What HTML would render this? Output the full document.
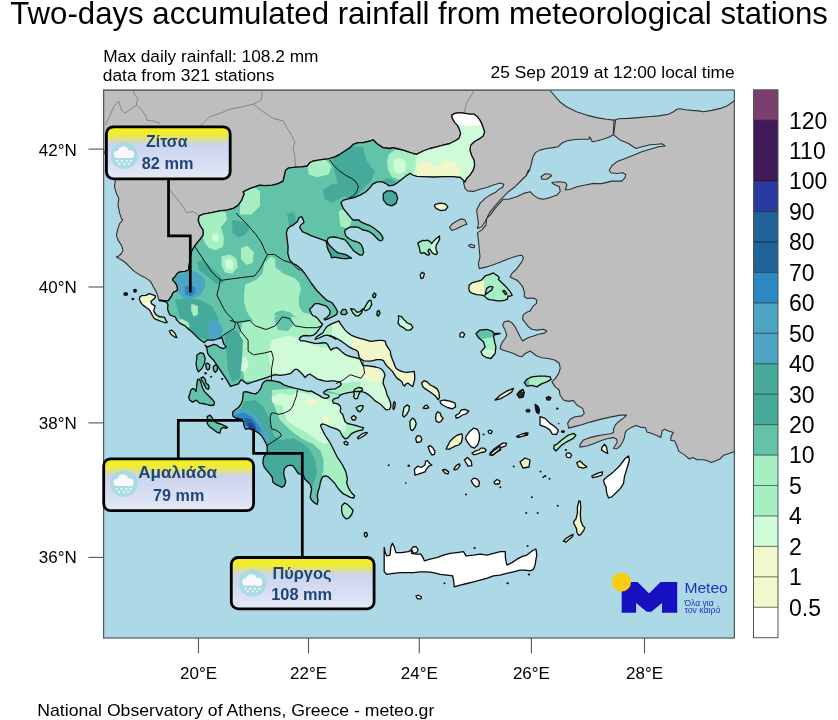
<!DOCTYPE html>
<html><head><meta charset="utf-8"><title>Two-days accumulated rainfall</title>
<style>
html,body{margin:0;padding:0;background:#fff;width:838px;height:720px;overflow:hidden}
svg{display:block}
text{font-family:"Liberation Sans",Arial,sans-serif;fill:#000}
.cb{font-size:23px}
.ax{font-size:17px}
.co{font-family:"Liberation Sans","DejaVu Sans",sans-serif;font-weight:bold;fill:#1f4679}
</style></head>
<body>
<svg width="838" height="720" viewBox="0 0 838 720">
<defs>
<linearGradient id="cg" x1="0" y1="0" x2="0" y2="1">
<stop offset="0" stop-color="#f4f020"/>
<stop offset="0.14" stop-color="#f0ec30"/>
<stop offset="0.34" stop-color="#cbd3ee"/>
<stop offset="1" stop-color="#e4e8f6"/>
</linearGradient>
<clipPath id="mapclip"><rect x="103.5" y="90" width="631" height="548"/></clipPath>
<g id="cloud">
<circle cx="0" cy="0" r="13.6" fill="#a8dbe4"/>
<g fill="#fbf8fb"><circle cx="-6.8" cy="-1.2" r="3.6"/><circle cx="-1" cy="-3.8" r="5.4"/><circle cx="5.6" cy="-1.2" r="4"/><rect x="-9.5" y="-1.5" width="19" height="4" rx="2"/></g>
<g fill="#fff"><circle cx="-7.2" cy="5.6" r="1"/><circle cx="-2.4" cy="5.6" r="1"/><circle cx="2.3" cy="5.6" r="1"/><circle cx="6.7" cy="5.6" r="1"/><circle cx="-4.8" cy="8.4" r="1"/><circle cx="0" cy="8.4" r="1"/><circle cx="4.3" cy="8.4" r="1"/></g>
</g>
</defs>

<!-- titles -->
<text x="10.3" y="24" font-size="31.2" textLength="817.5" lengthAdjust="spacingAndGlyphs">Two-days accumulated rainfall from meteorological stations</text>
<text x="103.2" y="61.8" font-size="17.2" textLength="215.3" lengthAdjust="spacingAndGlyphs">Max daily rainfall: 108.2 mm</text>
<text x="102.8" y="81.2" font-size="17.2" textLength="171.6" lengthAdjust="spacingAndGlyphs">data from 321 stations</text>
<text x="490.6" y="78" font-size="17.2" textLength="244" lengthAdjust="spacingAndGlyphs">25 Sep 2019 at 12:00 local time</text>
<text x="37.3" y="715.6" font-size="17" textLength="397" lengthAdjust="spacingAndGlyphs">National Observatory of Athens, Greece - meteo.gr</text>

<!-- map -->
<g clip-path="url(#mapclip)">
<rect x="103.5" y="90" width="631" height="548" fill="#add8e6"/>
<g fill="#bebebe" stroke="#303030" stroke-width="1.1" stroke-linejoin="round">
<polygon points="103.5,90.0 103.5,150.0 115.5,180.0 114.4,186.7 116.4,193.4 118.9,198.4 118.0,205.1 119.7,213.4 121.4,218.4 122.7,220.1 119.7,223.4 118.0,228.4 116.4,235.1 118.0,240.1 121.4,245.2 123.0,250.2 121.4,253.5 118.9,256.0 116.4,256.8 118.9,258.5 122.2,260.2 126.4,263.5 129.7,266.9 133.9,271.1 138.9,274.4 143.9,276.9 150.0,280.9 151.7,283.4 153.3,286.7 155.8,290.9 157.5,295.1 158.4,298.4 159.2,300.1 162.5,300.5 165.9,300.9 168.4,300.5 170.0,298.4 171.7,295.9 172.6,293.4 174.2,291.8 176.7,290.9 177.6,288.4 176.7,285.1 175.1,282.6 173.4,280.9 172.6,279.2 175.1,276.7 176.7,274.2 178.4,272.5 181.7,271.7 185.1,271.3 188.4,270.0 189.9,260.2 191.5,251.8 194.1,246.8 196.6,243.5 200.7,238.5 203.2,235.1 203.2,230.1 199.9,225.1 198.2,220.1 199.1,215.9 203.2,214.2 211.6,212.6 219.9,210.9 226.6,210.1 233.3,208.4 238.3,205.1 241.8,200.1 244.3,193.4 243.0,191.9 249.7,188.6 255.5,186.6 259.7,185.2 264.7,185.6 272.2,185.2 278.1,183.6 283.1,181.1 285.6,170.2 288.1,168.2 294.8,167.2 301.5,166.8 307.3,166.0 309.8,162.7 313.2,161.0 318.2,160.2 323.2,159.3 328.2,158.8 330.7,158.2 334.9,156.8 339.9,154.3 344.9,151.0 349.9,147.6 353.3,144.3 358.3,142.6 363.3,142.6 370.0,141.0 373.3,139.8 376.7,143.5 383.0,147.6 389.7,148.5 393.0,147.6 396.4,148.5 403.0,150.1 408.1,151.8 413.1,153.5 416.4,154.3 423.1,151.0 429.8,148.5 436.5,146.8 443.1,145.1 449.8,143.5 454.8,141.0 459.0,138.4 460.7,133.4 459.0,128.4 457.3,125.1 454.8,122.6 452.3,118.4 451.8,115.1 454.8,113.4 459.8,112.6 464.9,113.4 469.9,114.2 474.1,114.2 477.4,116.7 479.9,120.1 481.6,123.4 483.2,127.6 484.6,131.8 483.2,135.9 479.9,138.4 474.1,141.8 470.7,145.1 469.9,150.1 471.5,155.2 474.1,160.2 474.6,165.2 473.2,170.2 469.9,175.2 466.5,178.5 464.9,181.9 463.3,181.7 465.0,188.4 467.5,190.9 473.4,191.4 480.0,189.2 486.7,187.5 493.4,185.0 500.1,183.0 503.8,184.2 502.6,187.5 500.1,188.4 495.1,192.6 490.1,195.1 485.1,198.4 480.0,203.4 476.7,210.1 477.5,216.8 478.4,223.5 477.5,228.5 481.7,226.8 485.1,221.8 487.6,216.8 490.1,211.8 495.1,205.9 500.1,200.1 502.6,197.6 508.4,191.7 515.1,186.7 521.8,180.0 526.8,175.0 528.5,170.0 526.3,175.2 529.7,170.2 531.4,163.5 533.0,156.8 535.5,152.6 539.7,150.1 546.4,148.5 553.1,147.6 558.1,146.8 561.4,143.5 566.4,141.0 573.1,139.8 579.8,139.3 586.5,139.3 589.0,139.3 589.5,136.8 590.7,138.4 592.3,141.8 596.5,141.0 603.2,139.3 609.9,136.8 613.2,134.8 614.1,120.1 606.5,119.2 596.5,117.6 586.5,115.1 576.5,111.7 566.4,106.7 559.8,101.7 553.9,95.0 549.7,90.0 549.8,90.0" />
<polygon points="615.5,120.2 615.0,120.1 618.4,118.7 628.4,118.4 638.4,117.6 648.5,116.7 658.5,115.9 668.5,114.2 673.5,111.7 676.9,109.2 680.2,108.7 685.2,109.7 691.9,110.4 698.6,110.9 703.6,111.7 711.9,110.4 720.3,108.4 727.0,105.9 732.0,102.5 735.3,100.0 734.5,100.0 734.5,637.5 737.2,450.7 728.9,453.5 723.3,455.6 719.9,459.0 716.4,460.4 711.5,462.5 708.1,461.1 703.9,459.7 696.9,459.7 692.8,457.6 689.3,459.0 684.4,454.9 678.9,451.4 676.8,445.8 674.7,441.0 670.6,440.3 671.2,436.1 673.3,432.6 669.2,431.2 664.3,429.2 662.2,430.6 660.8,437.5 656.7,435.4 651.1,433.3 646.9,431.9 645.6,427.8 640.2,427.1 636.1,425.4 631.1,427.6 626.9,430.1 625.2,432.6 624.4,437.6 622.7,441.8 620.2,446.0 616.8,448.8 613.5,448.5 614.8,446.0 617.2,442.6 616.8,439.3 613.5,437.6 606.8,438.8 600.1,441.0 593.5,443.8 586.8,446.0 579.8,447.1 580.1,444.3 583.4,440.1 590.1,437.6 596.8,435.9 603.5,434.8 610.2,433.8 613.5,432.6 613.5,429.3 615.2,425.1 618.5,421.7 623.5,418.1 626.5,415.1 620.2,415.1 610.2,417.1 600.1,419.4 590.1,422.1 581.8,424.7 575.1,426.4 568.7,428.1 567.6,423.4 570.1,419.2 575.1,416.7 581.8,415.9 584.3,413.4 582.6,408.4 576.8,405.0 573.4,400.4 568.4,401.4 563.4,400.0 560.0,395.0 559.2,390.0 559.4,390.3 555.2,386.9 551.9,381.9 555.2,378.6 558.6,373.6 560.2,368.5 559.4,363.5 555.2,360.2 548.5,358.5 541.9,357.7 536.8,356.0 533.5,353.5 530.2,351.0 525.2,353.5 521.8,356.8 518.5,356.0 513.5,353.5 508.4,351.8 503.4,350.2 500.1,348.5 500.9,345.2 502.6,341.8 505.1,338.5 506.8,335.1 505.1,330.1 502.6,325.1 504.3,321.8 508.4,320.9 511.8,322.6 515.1,326.8 517.6,331.8 520.1,336.8 522.6,341.0 525.2,339.3 528.5,337.6 533.5,336.0 538.5,334.3 544.4,333.1 546.9,331.0 543.5,329.3 536.8,330.1 531.8,329.3 528.5,326.8 525.2,322.6 522.6,319.3 523.2,315.1 526.0,312.6 530.2,310.9 532.7,306.7 536.5,303.4 536.8,300.0 533.5,298.0 527.7,298.4 524.3,296.7 524.3,291.7 522.6,286.7 519.3,282.5 516.8,280.0 516.8,280.3 510.1,276.9 511.8,273.6 516.8,268.6 521.8,261.9 523.5,257.7 521.8,255.2 516.8,256.0 506.8,259.4 496.8,263.6 486.7,266.9 479.2,268.6 478.4,263.6 480.0,256.9 479.2,248.5 478.4,240.2 477.5,232.6 481.7,230.1 485.9,225.1 486.7,218.4 490.1,215.1 495.1,208.4 500.1,202.6 503.4,199.2 508.4,199.2 516.8,196.7 523.5,193.4 530.2,191.7 533.5,195.1 538.5,198.4 543.5,199.2 550.2,197.6 556.9,195.1 560.2,191.7 559.4,186.7 553.6,184.2 551.9,182.5 558.6,181.7 565.3,182.5 566.9,185.0 565.3,190.0 570.3,189.2 576.9,186.7 585.3,185.0 593.7,183.4 595.0,183.6 601.7,183.6 611.7,181.1 621.7,181.1 625.1,177.7 625.9,174.4 622.6,172.7 616.7,173.5 610.9,172.7 609.2,170.2 611.7,166.0 616.7,161.8 625.1,158.5 633.4,155.2 641.8,151.8 650.1,149.3 658.5,146.8 665.2,146.0 661.8,143.8 656.8,144.3 650.1,144.8 641.8,146.8 635.9,148.5 628.4,143.5 620.1,140.1 613.7,134.8" />
<polygon points="449.5,227.3 451.8,224.3 456.3,221.2 460.9,218.9 464.7,219.7 467.0,224.3 462.4,225.8 456.3,228.9 451.8,230.4" />
<polygon points="468.4,245.5 470.9,244.3 474.7,245.5 474.2,247.7 470.9,247.4" />
<polygon points="541.0,176.7 545.2,173.7 550.2,174.2 551.6,175.8 546.9,179.2 541.9,179.2" />
</g>
<g fill="none" stroke="#858585" stroke-width="1">
<polyline points="133.6,90.3 134.4,94.6 137.9,98.2 136.9,101.7 136.5,105.0 125.1,113.2 121.5,110.3 118.6,101.0 114.3,106.0 108.6,118.2 105.7,124.7"/>
<polyline points="136.5,105.0 141.5,109.6 145.8,116.1 147.2,120.4 154.4,121.1 160.0,123.2"/>
<polyline points="200.0,126.0 203.2,123.4 209.9,116.7 219.9,113.4 230.0,109.2 243.0,106.7 253.0,104.2 261.4,100.0 262.2,93.3 260.5,90.0"/>
<polyline points="253.0,104.2 263.0,111.7 273.1,118.4 283.1,120.9 286.4,126.8 291.4,135.1 294.8,141.8 293.1,148.5 294.8,156.8 295.6,166.8"/>
<polyline points="168.5,181.0 169.8,190.0 176.5,198.4 183.2,206.7 186.5,212.6 193.2,211.7 198.2,215.1"/>
<polyline points="474.0,90.0 471.5,95.0 466.5,103.4 464.9,110.0 464.9,113.4"/>
</g>
<clipPath id="mlc"><polygon points="159.2,300.1 162.5,300.5 165.9,300.9 168.4,300.5 170.0,298.4 171.7,295.9 172.6,293.4 174.2,291.8 176.7,290.9 177.6,288.4 176.7,285.1 175.1,282.6 173.4,280.9 172.6,279.2 175.1,276.7 176.7,274.2 178.4,272.5 181.7,271.7 185.1,271.3 188.4,270.0 189.9,260.2 191.5,251.8 194.1,246.8 196.6,243.5 200.7,238.5 203.2,235.1 203.2,230.1 199.9,225.1 198.2,220.1 199.1,215.9 203.2,214.2 211.6,212.6 219.9,210.9 226.6,210.1 233.3,208.4 238.3,205.1 241.8,200.1 244.3,193.4 243.0,191.9 249.7,188.6 255.5,186.6 259.7,185.2 264.7,185.6 272.2,185.2 278.1,183.6 283.1,181.1 285.6,170.2 288.1,168.2 294.8,167.2 301.5,166.8 307.3,166.0 309.8,162.7 313.2,161.0 318.2,160.2 323.2,159.3 328.2,158.8 330.7,158.2 334.9,156.8 339.9,154.3 344.9,151.0 349.9,147.6 353.3,144.3 358.3,142.6 363.3,142.6 370.0,141.0 373.3,139.8 376.7,143.5 383.0,147.6 389.7,148.5 393.0,147.6 396.4,148.5 403.0,150.1 408.1,151.8 413.1,153.5 416.4,154.3 423.1,151.0 429.8,148.5 436.5,146.8 443.1,145.1 449.8,143.5 454.8,141.0 459.0,138.4 460.7,133.4 459.0,128.4 457.3,125.1 454.8,122.6 452.3,118.4 451.8,115.1 454.8,113.4 459.8,112.6 464.9,113.4 469.9,114.2 474.1,114.2 477.4,116.7 479.9,120.1 481.6,123.4 483.2,127.6 484.6,131.8 483.2,135.9 479.9,138.4 474.1,141.8 470.7,145.1 469.9,150.1 471.5,155.2 474.1,160.2 474.6,165.2 473.2,170.2 469.9,175.2 466.5,178.5 464.9,181.9 461.5,178.5 459.8,176.9 460.0,177.5 453.7,176.7 443.6,176.7 433.6,177.0 423.6,176.7 416.9,176.4 412.7,175.0 410.2,173.4 406.0,175.9 401.9,179.2 397.7,182.6 393.5,185.1 389.3,185.9 386.0,183.7 381.8,181.7 376.8,182.1 372.6,184.2 370.1,187.6 365.9,191.7 360.1,195.1 354.2,197.6 348.4,198.8 343.4,200.1 340.9,202.6 343.2,208.3 346.6,212.5 349.9,216.7 353.0,220.0 359.0,220.0 360.1,221.4 362.9,222.9 366.5,224.3 370.1,225.7 373.7,227.9 377.3,230.7 380.0,232.9 383.0,237.5 382.5,240.0 380.0,240.8 378.7,240.0 375.8,237.2 373.0,234.3 370.1,232.2 366.5,230.7 362.9,230.0 359.4,227.9 357.2,227.2 353.6,226.8 350.1,227.2 347.2,228.6 345.1,230.0 344.7,232.2 345.8,235.7 347.9,237.9 350.1,239.3 352.9,240.8 355.8,241.5 359.4,242.9 361.5,245.1 362.9,248.6 363.7,252.2 362.2,255.1 360.1,255.1 356.5,252.9 353.6,250.8 351.5,247.9 349.3,245.1 347.2,242.2 345.1,240.0 342.9,239.0 340.0,238.3 337.2,237.5 332.9,237.0 330.0,237.2 327.9,238.6 327.2,240.8 327.9,242.9 330.0,245.8 332.2,247.9 335.0,250.8 337.9,252.9 341.5,253.6 345.8,254.7 347.9,255.8 350.1,257.2 351.5,258.3 350.1,257.9 347.2,258.7 342.9,258.7 338.6,257.9 334.3,257.2 331.5,257.9 330.7,254.4 328.6,250.8 327.2,247.2 326.8,243.6 325.7,240.8 321.5,239.3 316.5,237.6 311.5,235.9 306.5,233.4 302.3,231.7 299.8,227.6 300.6,225.1 304.0,222.6 303.1,219.2 301.5,216.7 299.0,217.5 297.3,221.7 293.1,225.1 289.8,226.7 287.3,229.2 286.4,233.4 287.3,240.1 288.1,246.8 287.8,253.5 289.8,260.1 293.1,263.5 296.5,265.2 300.6,268.5 304.8,273.5 308.2,278.5 311.5,283.5 316.5,290.2 321.5,295.2 326.5,300.2 331.8,302.5 334.3,305.8 336.4,309.2 337.6,311.7 336.8,314.2 334.3,315.9 330.9,317.5 327.6,319.2 325.1,320.0 324.2,318.8 325.9,318.0 327.6,316.7 329.7,314.2 330.1,310.9 328.4,308.4 325.9,305.8 321.7,304.6 317.6,303.3 314.6,303.8 311.7,307.5 309.6,309.2 310.9,312.5 312.6,315.5 315.1,316.3 317.6,318.4 320.1,321.7 322.6,324.2 320.9,326.7 318.4,330.1 315.9,333.4 313.4,335.1 310.0,335.9 305.9,335.5 302.5,335.9 300.0,337.6 299.2,339.3 300.9,340.9 304.2,340.9 308.4,341.8 311.7,342.6 315.1,343.4 318.4,343.4 321.7,343.0 325.1,342.6 327.6,344.3 329.3,347.6 330.9,350.1 333.4,348.4 336.8,347.6 340.1,350.1 342.6,352.6 345.1,354.3 348.5,356.0 351.8,356.8 355.2,357.6 358.5,358.5 360.0,359.3 363.0,365.7 366.9,365.7 375.8,367.0 380.7,368.5 383.6,371.4 385.1,375.3 383.6,379.2 383.1,383.1 384.6,386.9 386.0,390.8 387.0,394.7 389.0,398.6 390.4,402.5 390.9,406.4 389.4,409.3 386.0,409.8 383.6,407.4 380.7,404.4 377.8,402.5 374.9,400.6 371.9,397.6 370.0,395.7 365.2,392.6 361.8,391.7 358.5,391.3 355.1,391.7 351.8,392.1 348.4,392.6 345.1,393.4 342.6,394.2 340.1,395.1 338.4,397.6 335.9,398.4 333.4,399.2 332.6,400.9 333.4,403.0 335.9,403.4 338.4,404.2 340.1,405.9 340.9,408.4 340.1,410.9 340.9,412.6 342.6,414.3 343.4,416.8 344.3,419.3 345.1,421.8 347.6,423.5 351.0,424.3 354.3,425.1 357.6,426.0 360.1,426.8 363.5,427.6 362.5,430.0 358.8,430.6 355.0,431.9 351.2,433.8 349.4,436.2 347.5,438.1 345.0,438.8 342.5,436.2 341.2,433.8 340.0,431.2 337.5,429.4 333.8,428.1 330.0,426.9 326.2,425.0 322.5,423.8 320.6,425.0 321.2,427.5 323.1,431.2 325.0,435.0 327.5,438.8 330.0,442.5 331.9,446.2 333.8,450.0 335.6,453.8 337.5,457.5 340.0,461.2 342.5,465.0 344.4,468.8 346.2,472.5 346.0,472.9 347.4,478.7 346.7,483.0 348.8,488.7 351.7,493.0 354.6,495.8 353.8,498.0 350.3,497.3 346.0,495.1 343.1,493.7 340.2,490.8 337.4,487.3 334.5,483.0 331.6,480.1 328.8,477.2 325.9,475.8 323.1,476.5 321.6,478.7 320.2,483.0 319.5,487.3 318.0,491.6 317.3,495.8 318.0,500.1 317.3,504.4 314.5,503.0 311.6,500.1 310.2,497.3 310.9,493.0 311.6,488.7 310.2,484.4 307.3,481.5 304.4,478.7 303.7,475.8 301.6,474.4 298.7,473.7 297.3,472.2 295.1,468.6 293.0,465.8 290.1,465.1 287.3,465.8 284.4,468.6 283.7,472.9 284.4,477.2 285.8,481.5 284.4,485.8 281.5,487.3 278.7,485.8 275.8,484.4 272.9,482.2 272.2,477.2 270.1,474.4 267.2,470.8 264.3,467.2 262.9,462.9 263.6,457.2 265.8,454.3 267.2,451.5 267.2,445.7 263.4,438.5 261.8,436.0 259.2,433.4 256.7,431.8 254.2,430.5 251.7,429.7 248.4,428.4 245.9,429.3 245.0,428.4 243.8,425.1 243.4,421.8 242.1,419.7 239.2,418.8 235.9,418.0 233.4,416.7 232.5,414.2 232.9,411.7 235.0,410.1 238.4,407.6 240.9,404.2 242.5,400.0 243.0,395.0 243.4,392.1 245.9,391.7 249.2,392.5 252.6,393.4 255.9,393.8 258.4,391.7 260.9,388.3 261.8,385.0 263.3,382.5 265.9,380.5 269.9,380.5 275.1,381.2 280.4,382.5 284.3,385.1 288.3,386.4 293.5,387.8 298.8,389.1 304.0,390.4 309.3,391.7 310.9,390.9 314.2,392.6 316.7,394.2 320.0,395.9 322.6,397.6 325.1,398.4 327.6,398.0 329.2,396.7 328.4,395.1 325.1,394.2 323.4,392.6 324.6,391.3 327.6,389.6 331.7,389.2 335.1,388.8 337.6,387.5 340.1,385.9 341.3,384.2 340.1,382.1 337.6,381.7 334.2,380.9 330.9,380.9 327.6,381.3 324.2,380.9 320.9,380.0 317.5,379.2 315.0,377.5 312.5,375.8 310.0,374.2 307.5,375.0 305.0,377.5 302.5,374.2 300.0,371.7 297.4,369.4 294.8,369.4 290.9,373.3 285.6,374.6 280.4,375.3 275.1,374.6 271.2,375.9 267.3,377.3 263.3,378.6 259.4,379.9 255.4,381.2 251.5,382.5 247.6,383.8 244.9,382.5 243.0,380.5 241.0,379.9 238.4,383.8 234.4,385.1 230.5,386.4 226.9,380.2 223.6,375.2 220.2,370.2 216.9,365.2 213.6,360.2 210.2,356.8 207.7,353.5 206.9,348.5 205.2,345.2 205.2,345.2 206.9,346.8 210.2,346.0 213.6,344.3 216.9,345.2 220.2,347.7 223.6,348.5 226.1,346.8 223.6,343.5 221.9,337.6 218.6,338.5 213.6,340.1 206.9,340.1 204.4,342.6 204.4,342.6 201.9,341.0 198.5,338.5 195.2,335.1 191.8,331.8 188.5,329.3 185.2,325.9 180.1,323.4 176.8,320.1 175.1,316.8 170.0,315.0 168.4,311.8 167.5,308.5 168.0,305.1 166.7,302.2 162.5,301.1 159.2,300.5" /></clipPath>
<polygon points="159.2,300.1 162.5,300.5 165.9,300.9 168.4,300.5 170.0,298.4 171.7,295.9 172.6,293.4 174.2,291.8 176.7,290.9 177.6,288.4 176.7,285.1 175.1,282.6 173.4,280.9 172.6,279.2 175.1,276.7 176.7,274.2 178.4,272.5 181.7,271.7 185.1,271.3 188.4,270.0 189.9,260.2 191.5,251.8 194.1,246.8 196.6,243.5 200.7,238.5 203.2,235.1 203.2,230.1 199.9,225.1 198.2,220.1 199.1,215.9 203.2,214.2 211.6,212.6 219.9,210.9 226.6,210.1 233.3,208.4 238.3,205.1 241.8,200.1 244.3,193.4 243.0,191.9 249.7,188.6 255.5,186.6 259.7,185.2 264.7,185.6 272.2,185.2 278.1,183.6 283.1,181.1 285.6,170.2 288.1,168.2 294.8,167.2 301.5,166.8 307.3,166.0 309.8,162.7 313.2,161.0 318.2,160.2 323.2,159.3 328.2,158.8 330.7,158.2 334.9,156.8 339.9,154.3 344.9,151.0 349.9,147.6 353.3,144.3 358.3,142.6 363.3,142.6 370.0,141.0 373.3,139.8 376.7,143.5 383.0,147.6 389.7,148.5 393.0,147.6 396.4,148.5 403.0,150.1 408.1,151.8 413.1,153.5 416.4,154.3 423.1,151.0 429.8,148.5 436.5,146.8 443.1,145.1 449.8,143.5 454.8,141.0 459.0,138.4 460.7,133.4 459.0,128.4 457.3,125.1 454.8,122.6 452.3,118.4 451.8,115.1 454.8,113.4 459.8,112.6 464.9,113.4 469.9,114.2 474.1,114.2 477.4,116.7 479.9,120.1 481.6,123.4 483.2,127.6 484.6,131.8 483.2,135.9 479.9,138.4 474.1,141.8 470.7,145.1 469.9,150.1 471.5,155.2 474.1,160.2 474.6,165.2 473.2,170.2 469.9,175.2 466.5,178.5 464.9,181.9 461.5,178.5 459.8,176.9 460.0,177.5 453.7,176.7 443.6,176.7 433.6,177.0 423.6,176.7 416.9,176.4 412.7,175.0 410.2,173.4 406.0,175.9 401.9,179.2 397.7,182.6 393.5,185.1 389.3,185.9 386.0,183.7 381.8,181.7 376.8,182.1 372.6,184.2 370.1,187.6 365.9,191.7 360.1,195.1 354.2,197.6 348.4,198.8 343.4,200.1 340.9,202.6 343.2,208.3 346.6,212.5 349.9,216.7 353.0,220.0 359.0,220.0 360.1,221.4 362.9,222.9 366.5,224.3 370.1,225.7 373.7,227.9 377.3,230.7 380.0,232.9 383.0,237.5 382.5,240.0 380.0,240.8 378.7,240.0 375.8,237.2 373.0,234.3 370.1,232.2 366.5,230.7 362.9,230.0 359.4,227.9 357.2,227.2 353.6,226.8 350.1,227.2 347.2,228.6 345.1,230.0 344.7,232.2 345.8,235.7 347.9,237.9 350.1,239.3 352.9,240.8 355.8,241.5 359.4,242.9 361.5,245.1 362.9,248.6 363.7,252.2 362.2,255.1 360.1,255.1 356.5,252.9 353.6,250.8 351.5,247.9 349.3,245.1 347.2,242.2 345.1,240.0 342.9,239.0 340.0,238.3 337.2,237.5 332.9,237.0 330.0,237.2 327.9,238.6 327.2,240.8 327.9,242.9 330.0,245.8 332.2,247.9 335.0,250.8 337.9,252.9 341.5,253.6 345.8,254.7 347.9,255.8 350.1,257.2 351.5,258.3 350.1,257.9 347.2,258.7 342.9,258.7 338.6,257.9 334.3,257.2 331.5,257.9 330.7,254.4 328.6,250.8 327.2,247.2 326.8,243.6 325.7,240.8 321.5,239.3 316.5,237.6 311.5,235.9 306.5,233.4 302.3,231.7 299.8,227.6 300.6,225.1 304.0,222.6 303.1,219.2 301.5,216.7 299.0,217.5 297.3,221.7 293.1,225.1 289.8,226.7 287.3,229.2 286.4,233.4 287.3,240.1 288.1,246.8 287.8,253.5 289.8,260.1 293.1,263.5 296.5,265.2 300.6,268.5 304.8,273.5 308.2,278.5 311.5,283.5 316.5,290.2 321.5,295.2 326.5,300.2 331.8,302.5 334.3,305.8 336.4,309.2 337.6,311.7 336.8,314.2 334.3,315.9 330.9,317.5 327.6,319.2 325.1,320.0 324.2,318.8 325.9,318.0 327.6,316.7 329.7,314.2 330.1,310.9 328.4,308.4 325.9,305.8 321.7,304.6 317.6,303.3 314.6,303.8 311.7,307.5 309.6,309.2 310.9,312.5 312.6,315.5 315.1,316.3 317.6,318.4 320.1,321.7 322.6,324.2 320.9,326.7 318.4,330.1 315.9,333.4 313.4,335.1 310.0,335.9 305.9,335.5 302.5,335.9 300.0,337.6 299.2,339.3 300.9,340.9 304.2,340.9 308.4,341.8 311.7,342.6 315.1,343.4 318.4,343.4 321.7,343.0 325.1,342.6 327.6,344.3 329.3,347.6 330.9,350.1 333.4,348.4 336.8,347.6 340.1,350.1 342.6,352.6 345.1,354.3 348.5,356.0 351.8,356.8 355.2,357.6 358.5,358.5 360.0,359.3 363.0,365.7 366.9,365.7 375.8,367.0 380.7,368.5 383.6,371.4 385.1,375.3 383.6,379.2 383.1,383.1 384.6,386.9 386.0,390.8 387.0,394.7 389.0,398.6 390.4,402.5 390.9,406.4 389.4,409.3 386.0,409.8 383.6,407.4 380.7,404.4 377.8,402.5 374.9,400.6 371.9,397.6 370.0,395.7 365.2,392.6 361.8,391.7 358.5,391.3 355.1,391.7 351.8,392.1 348.4,392.6 345.1,393.4 342.6,394.2 340.1,395.1 338.4,397.6 335.9,398.4 333.4,399.2 332.6,400.9 333.4,403.0 335.9,403.4 338.4,404.2 340.1,405.9 340.9,408.4 340.1,410.9 340.9,412.6 342.6,414.3 343.4,416.8 344.3,419.3 345.1,421.8 347.6,423.5 351.0,424.3 354.3,425.1 357.6,426.0 360.1,426.8 363.5,427.6 362.5,430.0 358.8,430.6 355.0,431.9 351.2,433.8 349.4,436.2 347.5,438.1 345.0,438.8 342.5,436.2 341.2,433.8 340.0,431.2 337.5,429.4 333.8,428.1 330.0,426.9 326.2,425.0 322.5,423.8 320.6,425.0 321.2,427.5 323.1,431.2 325.0,435.0 327.5,438.8 330.0,442.5 331.9,446.2 333.8,450.0 335.6,453.8 337.5,457.5 340.0,461.2 342.5,465.0 344.4,468.8 346.2,472.5 346.0,472.9 347.4,478.7 346.7,483.0 348.8,488.7 351.7,493.0 354.6,495.8 353.8,498.0 350.3,497.3 346.0,495.1 343.1,493.7 340.2,490.8 337.4,487.3 334.5,483.0 331.6,480.1 328.8,477.2 325.9,475.8 323.1,476.5 321.6,478.7 320.2,483.0 319.5,487.3 318.0,491.6 317.3,495.8 318.0,500.1 317.3,504.4 314.5,503.0 311.6,500.1 310.2,497.3 310.9,493.0 311.6,488.7 310.2,484.4 307.3,481.5 304.4,478.7 303.7,475.8 301.6,474.4 298.7,473.7 297.3,472.2 295.1,468.6 293.0,465.8 290.1,465.1 287.3,465.8 284.4,468.6 283.7,472.9 284.4,477.2 285.8,481.5 284.4,485.8 281.5,487.3 278.7,485.8 275.8,484.4 272.9,482.2 272.2,477.2 270.1,474.4 267.2,470.8 264.3,467.2 262.9,462.9 263.6,457.2 265.8,454.3 267.2,451.5 267.2,445.7 263.4,438.5 261.8,436.0 259.2,433.4 256.7,431.8 254.2,430.5 251.7,429.7 248.4,428.4 245.9,429.3 245.0,428.4 243.8,425.1 243.4,421.8 242.1,419.7 239.2,418.8 235.9,418.0 233.4,416.7 232.5,414.2 232.9,411.7 235.0,410.1 238.4,407.6 240.9,404.2 242.5,400.0 243.0,395.0 243.4,392.1 245.9,391.7 249.2,392.5 252.6,393.4 255.9,393.8 258.4,391.7 260.9,388.3 261.8,385.0 263.3,382.5 265.9,380.5 269.9,380.5 275.1,381.2 280.4,382.5 284.3,385.1 288.3,386.4 293.5,387.8 298.8,389.1 304.0,390.4 309.3,391.7 310.9,390.9 314.2,392.6 316.7,394.2 320.0,395.9 322.6,397.6 325.1,398.4 327.6,398.0 329.2,396.7 328.4,395.1 325.1,394.2 323.4,392.6 324.6,391.3 327.6,389.6 331.7,389.2 335.1,388.8 337.6,387.5 340.1,385.9 341.3,384.2 340.1,382.1 337.6,381.7 334.2,380.9 330.9,380.9 327.6,381.3 324.2,380.9 320.9,380.0 317.5,379.2 315.0,377.5 312.5,375.8 310.0,374.2 307.5,375.0 305.0,377.5 302.5,374.2 300.0,371.7 297.4,369.4 294.8,369.4 290.9,373.3 285.6,374.6 280.4,375.3 275.1,374.6 271.2,375.9 267.3,377.3 263.3,378.6 259.4,379.9 255.4,381.2 251.5,382.5 247.6,383.8 244.9,382.5 243.0,380.5 241.0,379.9 238.4,383.8 234.4,385.1 230.5,386.4 226.9,380.2 223.6,375.2 220.2,370.2 216.9,365.2 213.6,360.2 210.2,356.8 207.7,353.5 206.9,348.5 205.2,345.2 205.2,345.2 206.9,346.8 210.2,346.0 213.6,344.3 216.9,345.2 220.2,347.7 223.6,348.5 226.1,346.8 223.6,343.5 221.9,337.6 218.6,338.5 213.6,340.1 206.9,340.1 204.4,342.6 204.4,342.6 201.9,341.0 198.5,338.5 195.2,335.1 191.8,331.8 188.5,329.3 185.2,325.9 180.1,323.4 176.8,320.1 175.1,316.8 170.0,315.0 168.4,311.8 167.5,308.5 168.0,305.1 166.7,302.2 162.5,301.1 159.2,300.5" fill="#62c3a8"/>
<g clip-path="url(#mlc)">
<polygon points="331.7,151.5 348.9,145.8 363.2,147.2 366.0,160.1 374.6,171.6 371.8,180.2 360.3,191.6 354.6,200.2 346.0,197.4 338.8,185.9 334.5,171.6" fill="#45aa9a"/>
<polygon points="323.0,190.0 331.6,184.3 341.6,182.9 348.7,187.2 347.3,194.3 340.1,198.6 331.6,202.9 324.4,198.6" fill="#45aa9a"/>
<polygon points="307.3,163.0 314.5,160.1 325.9,160.1 331.6,165.8 328.8,174.4 317.3,177.3 308.7,174.4" fill="#a6efc3"/>
<polygon points="445.0,112.0 490.0,112.0 490.0,150.0 470.0,170.0 455.0,168.0 445.0,150.0" fill="#cffbd9"/>
<polygon points="410.0,150.0 420.0,146.0 435.0,143.0 454.0,139.0 478.0,145.0 478.0,186.0 410.0,186.0" fill="#cffbd9"/>
<polygon points="389.0,154.0 395.0,150.0 402.0,149.0 410.0,150.0 415.0,155.0 416.0,164.0 414.0,172.0 408.0,178.0 400.0,180.0 392.0,177.0 388.0,170.0 387.0,161.0" fill="#a6efc3"/>
<polygon points="394.0,160.0 398.0,158.0 403.0,159.0 406.0,163.0 405.0,171.0 400.0,174.0 395.0,172.0 393.0,166.0" fill="#cffbd9"/>
<polygon points="383.0,180.0 388.0,178.0 394.0,180.0 397.0,185.0 392.0,188.0 385.0,187.0" fill="#45aa9a"/>
<polygon points="417.2,163.0 427.3,161.6 437.3,167.3 445.9,160.2 455.9,163.0 460.2,170.2 461.0,179.0 417.2,179.0" fill="#f1f7c9"/>
<polygon points="448.0,110.0 490.0,110.0 490.0,124.0 470.0,126.0 452.0,124.0" fill="#ffffff"/>
<polygon points="338.8,211.6 347.4,208.8 351.7,220.2 348.8,228.8 340.2,226.0" fill="#a6efc3"/>
<polygon points="240.0,185.9 251.5,184.4 260.0,191.6 260.0,205.9 251.5,214.5 240.0,214.5" fill="#a6efc3"/>
<polygon points="340.1,210.1 347.3,208.7 351.6,217.3 350.2,225.8 344.4,227.3 340.1,220.1" fill="#a6efc3"/>
<polygon points="327.3,244.5 337.3,247.3 348.7,255.9 347.3,260.2 334.4,258.8 328.7,253.1" fill="#45aa9a"/>
<polygon points="199.0,215.0 210.0,212.0 222.0,210.0 226.0,213.0 227.0,220.0 221.0,227.0 224.0,238.0 223.0,247.0 214.0,250.0 206.0,245.0 202.0,236.0 200.0,226.0" fill="#a6efc3"/>
<polygon points="204.4,232.9 213.0,228.6 221.5,232.9 222.6,243.6 217.3,250.1 208.7,247.9 204.4,241.5" fill="#a6efc3"/>
<polygon points="211.9,235.0 216.2,232.9 219.4,237.2 217.7,241.5 213.0,241.5" fill="#cffbd9"/>
<polygon points="221.5,256.5 230.1,254.4 236.6,258.7 237.7,267.3 232.3,273.7 224.8,272.6 221.5,265.1" fill="#a6efc3"/>
<polygon points="224.8,260.8 230.1,258.7 234.0,263.0 232.7,269.0 226.9,269.4" fill="#cffbd9"/>
<polygon points="240.9,247.9 247.3,245.8 253.8,252.2 252.7,263.0 246.2,265.1 240.9,258.7" fill="#a6efc3"/>
<polygon points="232.3,220.0 245.2,222.1 249.5,228.6 245.2,235.0 238.7,237.2 232.3,232.9" fill="#45aa9a"/>
<polygon points="287.0,214.0 293.0,212.0 296.0,218.0 295.0,226.0 289.0,226.0" fill="#45aa9a"/>
<polygon points="197.0,262.0 203.0,259.0 212.0,268.0 220.0,276.0 224.0,283.0 216.0,284.0 207.0,276.0 199.0,270.0" fill="#45aa9a"/>
<polygon points="203.0,190.0 215.0,186.0 230.0,186.0 238.0,192.0 236.0,205.0 222.0,212.0 210.0,218.0 203.0,210.0" fill="#a6efc3"/>
<polygon points="245.2,284.4 255.9,280.1 262.4,273.7 264.5,263.0 270.9,256.5 275.2,258.7 275.2,267.3 283.8,273.7 294.6,278.0 298.9,282.3 301.0,288.7 298.9,297.3 298.9,305.9 303.2,312.4 311.8,314.5 320.3,316.6 328.9,320.9 333.2,327.4 320.3,327.4 309.6,323.1 301.0,320.9 294.6,316.6 290.3,312.4 281.7,310.2 275.2,312.4 273.1,318.8 268.8,325.2 262.4,327.4 255.9,323.1 249.5,316.6 246.2,310.2 244.1,301.6 244.1,293.0" fill="#a6efc3"/>
<polygon points="175.0,300.0 188.0,298.0 200.0,300.0 212.0,306.0 218.0,318.0 220.0,333.0 214.0,340.0 200.0,338.0 188.0,330.0 180.0,318.0" fill="#45aa9a"/>
<polygon points="196.0,305.0 205.0,302.0 214.0,310.0 218.0,322.0 216.0,338.0 206.0,340.0 198.0,330.0" fill="#45aa9a"/>
<polygon points="176.4,275.8 185.0,270.5 195.8,271.5 204.4,278.0 205.4,286.6 200.1,295.2 191.5,299.5 182.9,297.3 176.4,290.9 174.3,282.3" fill="#4ba5c3"/>
<polygon points="184.5,287.5 190.0,284.5 195.0,287.5 195.5,293.0 191.0,296.5 185.5,294.5" fill="#2a88c3"/>
<polygon points="208.7,323.1 217.3,320.9 221.5,327.4 219.4,336.0 210.8,338.1 207.6,331.7" fill="#4ba5c3"/>
<polygon points="191.5,303.8 197.9,305.9 197.9,314.5 193.6,316.6 191.0,310.2" fill="#a6efc3"/>
<polygon points="176.0,320.0 182.0,319.0 188.0,322.0 190.0,327.0 186.0,328.0 180.0,326.0" fill="#a6efc3"/>
<polygon points="242.2,322.9 263.7,318.6 280.9,314.3 300.2,318.6 317.4,322.9 330.3,331.5 343.2,335.8 360.3,340.1 373.2,353.0 377.5,363.7 381.8,380.9 373.2,391.6 360.3,395.9 347.5,395.9 330.3,391.6 313.1,387.3 295.9,383.0 280.9,380.9 265.8,378.7 257.3,380.9 244.4,380.9 242.2,363.7 237.9,348.7 240.1,333.6" fill="#a6efc3"/>
<polygon points="272.3,340.1 287.3,335.8 300.2,337.9 313.1,346.5 326.0,353.0 338.9,357.3 351.8,361.5 360.3,370.1 360.3,380.9 349.6,383.0 334.6,380.9 317.4,380.9 300.2,374.4 285.2,374.4 274.4,370.1 272.3,357.3" fill="#cffbd9"/>
<polygon points="272.0,340.0 290.0,336.0 305.0,342.0 320.0,347.0 335.0,349.0 350.0,353.0 360.0,358.0 366.0,366.0 362.0,380.0 345.0,383.0 320.0,381.0 300.0,378.0 285.0,375.0 272.0,372.0 268.0,355.0" fill="#cffbd9"/>
<polygon points="362.0,362.0 372.0,362.0 382.0,364.0 390.0,372.0 394.0,385.0 398.0,400.0 397.0,413.0 380.0,413.0 368.0,402.0 360.0,390.0" fill="#cffbd9"/>
<polygon points="364.0,368.0 378.0,366.0 381.0,372.0 378.0,380.0 366.0,380.0" fill="#f1f7c9"/>
<polygon points="384.0,384.0 389.0,382.0 392.0,390.0 388.0,396.0 384.0,392.0" fill="#f1f7c9"/>
<polygon points="360.3,342.2 373.2,344.4 386.1,353.0 390.0,363.7 381.8,365.8 368.9,361.5 360.3,355.1" fill="#f1f7c9"/>
<polygon points="360.3,368.0 373.2,368.0 381.8,374.4 379.7,383.0 368.9,380.9 360.3,376.6" fill="#f1f7c9"/>
<polygon points="237.9,357.3 246.5,357.3 248.7,365.8 244.4,372.3 239.0,370.1" fill="#cffbd9"/>
<polygon points="274.0,318.0 282.0,312.0 291.0,316.0 293.0,325.0 288.0,331.0 278.0,330.0" fill="#62c3a8"/>
<polygon points="224.0,333.0 236.0,330.0 243.0,340.0 242.0,360.0 240.0,378.0 232.0,382.0 228.0,370.0 226.0,350.0" fill="#45aa9a"/>
<polygon points="210.0,318.6 218.6,320.7 222.9,329.3 220.7,337.9 214.3,340.1 210.0,337.9" fill="#4ba5c3"/>
<polygon points="272.0,400.0 279.9,419.9 290.6,430.6 301.3,438.2 313.5,444.3 321.2,452.0 322.7,461.2 321.2,468.8 322.7,476.5 330.0,500.0 365.0,500.0 365.0,420.0 340.0,395.0 300.0,388.0 272.0,390.0" fill="#a6efc3"/>
<polygon points="282.9,400.0 296.0,392.0 321.2,396.0 340.0,408.0 346.0,418.0 345.6,430.6 333.4,439.8 324.2,444.3 316.6,439.8 305.9,432.1 295.2,426.0 287.5,421.4 283.0,410.0" fill="#cffbd9"/>
<polygon points="306.0,399.0 312.0,397.0 316.0,401.0 313.0,406.0 307.0,405.0" fill="#f1f7c9"/>
<polygon points="323.0,417.0 327.0,415.0 330.0,419.0 327.0,424.0 323.0,422.0" fill="#f1f7c9"/>
<polygon points="271.8,396.7 280.1,393.4 290.1,395.0 293.5,401.7 286.8,405.1 276.8,405.1 271.8,401.7" fill="#cffbd9"/>
<polygon points="240.0,393.4 253.4,390.0 263.4,386.7 268.4,396.7 271.8,410.1 278.4,418.4 283.5,430.1 290.1,436.8 300.2,440.1 310.2,443.5 320.2,450.2 323.6,460.2 323.6,470.2 320.2,480.2 316.9,496.9 303.5,500.0 280.1,500.0 263.4,480.2 260.1,463.5 250.0,446.8 240.0,438.5 230.0,421.8 230.0,413.4" fill="#62c3a8"/>
<polygon points="243.4,401.7 255.1,400.0 263.4,406.7 270.1,420.1 273.4,435.1 280.1,440.1 293.5,438.5 303.5,443.5 310.2,450.2 315.2,460.2 316.9,473.5 313.5,483.6 310.2,496.9 300.2,500.0 283.5,500.0 271.8,486.9 266.8,473.5 263.4,460.2 256.7,446.8 248.4,436.8 241.7,426.8 240.0,413.4" fill="#45aa9a"/>
<polygon points="230.5,413.4 240.0,408.4 248.4,410.1 256.7,416.8 263.4,426.8 270.1,436.8 268.4,441.8 263.4,441.8 255.1,435.1 246.7,430.1 236.4,423.4" fill="#4ba5c3"/>
<polygon points="234.7,415.1 243.4,412.6 251.7,416.8 258.4,425.1 261.7,431.8 256.7,431.8 250.0,428.4 241.4,423.4" fill="#2a88c3"/>
<polygon points="244.0,418.0 250.0,419.0 255.0,424.0 256.0,429.0 251.0,429.0 246.0,425.0" fill="#1f6399"/>
<polygon points="248.0,423.0 252.0,423.5 254.5,427.0 252.0,429.0 249.0,428.0" fill="#2b3a9e"/>
</g>
<polygon points="205.8,363.9 207.8,363.1 209.8,365.0 209.4,368.9 207.6,370.0 206.1,367.8" fill="#62c3a8"/>
<polygon points="213.3,366.7 215.3,365.0 217.6,366.1 217.2,370.6 215.3,372.2 213.6,370.6" fill="#62c3a8"/>
<polygon points="520.0,462.0 525.0,458.0 530.0,460.0 529.0,467.0 523.0,468.0" fill="#f1f7c9"/>
<polygon points="494.0,482.0 497.0,479.5 500.0,481.0 499.0,484.0 495.0,484.0" fill="#ffffff"/>
<polygon points="364.5,533.0 366.5,532.5 367.5,535.0 366.0,537.0 364.5,536.0" fill="#cffbd9"/>
<polygon points="384.2,547.5 385.0,551.7 386.7,555.9 390.0,555.1 390.9,546.7 392.5,543.4 394.2,546.7 395.9,552.6 401.7,552.6 408.4,551.7 410.9,550.0 411.7,553.4 415.9,554.2 420.9,554.2 423.4,558.4 424.3,560.9 430.1,559.2 436.8,557.6 443.5,555.1 450.2,553.4 456.8,552.6 463.5,551.7 466.0,555.9 473.6,555.1 480.2,554.2 486.9,555.1 493.6,553.4 500.3,551.7 505.3,551.7 505.3,556.7 506.1,561.7 507.0,565.1 512.0,562.6 517.0,559.2 521.8,556.7 526.8,555.1 530.1,552.6 533.5,550.0 536.0,549.2 536.8,555.1 536.0,559.2 535.1,565.1 533.5,569.3 530.1,570.9 525.1,570.1 520.1,570.1 513.4,571.8 506.7,573.4 500.0,575.1 493.4,575.9 486.7,578.4 480.0,580.1 473.6,581.8 466.9,583.5 460.2,585.1 454.3,586.8 453.5,580.1 452.7,575.9 446.8,575.1 440.1,574.3 433.5,572.6 426.8,571.8 420.1,571.8 413.4,572.6 406.7,572.6 400.0,572.6 393.4,573.4 386.7,574.3 384.2,571.8 384.2,563.4 384.2,555.1" fill="#ffffff"/>
<polygon points="440.0,401.2 443.8,400.0 450.0,401.2 455.0,403.1 455.6,406.9 452.5,408.8 447.5,407.5 442.5,405.0 440.6,403.1" fill="#ffffff"/>
<polygon points="455.6,415.6 458.8,413.8 461.2,410.0 465.0,409.4 468.8,411.2 466.2,413.8 462.5,415.0 458.8,417.5 456.2,418.1" fill="#ffffff"/>
<polygon points="436.2,413.8 437.5,411.9 440.0,412.8 441.2,416.2 443.1,418.1 441.2,421.2 438.8,422.5 436.2,421.2 435.6,417.5" fill="#f1f7c9"/>
<polygon points="410.0,421.2 412.5,418.1 415.0,420.0 416.2,423.8 415.0,427.5 412.5,430.6 410.6,429.4 410.0,425.0" fill="#cffbd9"/>
<polygon points="415.6,438.8 417.5,435.6 420.6,436.2 421.9,439.4 420.6,441.9 416.9,442.5" fill="#f1f7c9"/>
<polygon points="428.1,446.9 430.0,445.6 432.5,447.5 435.0,451.2 434.4,454.4 431.9,455.0 430.0,451.9" fill="#ffffff"/>
<polygon points="450.0,441.2 453.8,437.5 457.5,435.0 461.9,433.8 462.5,437.5 461.2,442.5 458.8,445.0 455.0,446.2 452.5,447.5 448.8,449.4 446.2,448.8 448.1,445.0" fill="#f1f7c9"/>
<polygon points="466.2,436.2 470.0,431.2 473.8,428.1 477.5,429.4 479.4,433.8 479.4,440.0 477.5,445.0 474.4,448.1 471.2,446.9 468.1,443.1 465.6,438.8" fill="#ffffff"/>
<polygon points="490.0,454.4 493.1,451.2 497.5,448.1 500.0,446.2 500.6,450.0 496.2,452.5 492.5,455.0" fill="#ffffff"/>
<polygon points="464.4,460.0 467.5,457.5 471.2,461.2 471.9,465.6 468.1,466.2" fill="#ffffff"/>
<polygon points="488.1,431.2 490.0,430.0 492.2,431.2 491.2,433.5 488.8,433.1" fill="#ffffff"/>
<polygon points="471.9,453.1 475.0,451.2 478.8,450.0 481.2,448.1 483.8,448.1 486.2,450.0 485.0,451.9 481.2,452.5 477.5,453.8 473.8,454.8" fill="#f1f7c9"/>
<polygon points="414.4,469.4 417.5,466.2 421.2,467.5 425.0,465.0 425.6,461.2 427.5,460.6 430.0,463.8 431.9,465.0 428.8,466.2 426.2,469.4 425.0,471.9 421.2,473.1 417.5,474.4 415.0,475.0" fill="#ffffff"/>
<polygon points="442.5,470.0 445.0,469.4 448.8,471.9 448.1,473.8 445.0,473.1" fill="#f1f7c9"/>
<polygon points="453.8,469.4 456.2,465.6 459.4,463.8 460.0,465.6 457.5,468.8 455.0,470.0" fill="#f1f7c9"/>
<polygon points="471.2,480.6 473.8,478.1 476.9,478.8 479.4,481.9 478.8,486.2 476.2,486.9 473.8,485.0 472.5,483.1" fill="#ffffff"/>
<polygon points="415.9,596.0 418.4,595.2 421.4,596.8 420.9,598.8 417.6,598.8" fill="#ffffff"/>
<polygon points="411.4,549.2 413.4,546.7 416.4,547.0 418.1,549.7 416.8,552.6 413.4,553.1" fill="#ffffff"/>
<polygon points="578.9,500.9 580.3,501.4 580.8,507.2 580.3,514.0 580.8,520.8 582.8,525.7 584.7,527.6 583.7,530.6 580.8,534.4 578.9,535.4 576.9,532.5 576.5,528.6 574.0,523.7 573.5,521.8 576.0,518.9 577.4,513.1 577.4,507.2 578.4,503.3" fill="#f1f7c9"/>
<polygon points="563.3,541.2 566.2,538.3 570.1,535.9 573.1,534.4 572.1,536.9 569.2,539.3 565.8,542.2" fill="#f1f7c9"/>
<polygon points="490.0,453.1 494.3,448.8 498.6,445.9 502.9,443.1 506.5,443.1 505.8,445.9 501.5,447.4 497.2,451.6 492.9,455.2 490.0,455.2" fill="#ffffff"/>
<polygon points="516.9,394.4 520.1,390.8 523.0,389.4 524.4,392.9 523.0,397.2 519.4,397.9" fill="#2a2a2a"/>
<polygon points="546.2,397.5 548.7,396.5 550.9,397.9 549.5,400.1 547.0,399.8" fill="#2a2a2a"/>
<polygon points="535.1,404.4 537.3,405.8 539.4,410.1 538.7,413.7 536.6,412.3 535.6,408.0" fill="#2a2a2a"/>
<polygon points="516.5,436.6 520.1,434.7 524.4,433.3 528.0,433.0 527.3,435.2 523.0,436.2 518.7,437.3" fill="#f1f7c9"/>
<polygon points="340.7,312.3 342.9,309.4 345.7,309.4 347.2,313.0 345.0,314.7 341.4,314.4" fill="#62c3a8"/>
<polygon points="350.7,308.7 354.3,309.4 357.2,312.3 360.0,311.6 362.9,308.7 361.5,313.0 358.6,315.8 355.8,315.8 352.9,313.0" fill="#a6efc3"/>
<polygon points="363.6,309.4 366.5,304.4 368.6,300.8 370.8,300.1 371.8,304.4 369.4,308.7 365.8,310.8" fill="#a6efc3"/>
<polygon points="398.4,315.8 401.6,316.6 404.4,320.1 407.3,323.0 410.9,324.4 413.0,327.3 410.2,330.2 406.6,330.2 403.0,327.3 400.1,325.9 398.0,323.0 398.7,319.4" fill="#cffbd9"/>
<polygon points="372.6,295.1 374.4,292.9 376.1,294.4 375.1,297.5 373.2,297.5" fill="#62c3a8"/>
<polygon points="377.2,311.6 378.9,310.4 380.1,313.0 378.4,316.1 376.9,315.1" fill="#62c3a8"/>
<polygon points="383.5,193.4 386.8,190.9 391.8,190.9 396.0,193.4 397.7,198.4 396.0,203.4 391.8,205.9 386.8,204.3 383.5,200.1 383.2,196.8" fill="#45aa9a"/>
<polygon points="435.3,204.3 440.3,203.1 445.3,203.8 447.8,206.8 445.3,210.1 440.3,210.5 436.1,208.4 434.4,205.9" fill="#f1f7c9"/>
<polygon points="417.9,243.1 419.7,241.9 422.7,240.4 425.1,240.7 427.4,240.1 429.8,241.3 431.6,243.7 434.0,240.7 436.4,238.4 439.4,236.0 439.7,238.9 438.2,241.9 436.4,244.9 435.8,247.9 436.4,250.9 437.6,252.7 436.4,254.5 434.0,253.9 432.2,252.7 431.0,250.9 429.8,249.1 428.6,249.7 428.0,251.5 429.8,253.9 428.6,255.1 426.3,254.5 425.1,253.3 423.9,252.7 421.5,253.3 420.3,252.7 419.7,249.7 419.1,246.7 418.2,244.9" fill="#a6efc3"/>
<polygon points="420.2,275.3 421.9,272.3 424.4,273.6 423.2,277.8 421.1,278.6" fill="#cffbd9"/>
<polygon points="469.2,285.1 472.5,282.6 476.7,281.7 481.7,280.0 485.1,275.9 489.2,274.6 493.4,272.9 495.1,274.2 497.6,275.9 499.3,277.5 498.4,279.6 500.9,281.7 503.4,284.2 506.8,287.6 510.1,291.7 512.2,295.1 510.1,296.3 508.0,295.9 507.6,298.8 505.1,300.1 501.8,300.9 497.6,300.9 493.4,300.1 489.2,299.7 486.7,298.4 484.2,295.9 481.7,295.1 476.7,294.7 472.5,293.4 469.6,291.7 468.8,288.4" fill="#a6efc3"/>
<polygon points="475.9,333.5 480.0,330.1 486.7,329.3 491.7,331.0 494.2,333.5 500.1,333.5 493.4,335.1 494.2,340.1 495.9,346.8 495.1,353.5 490.9,358.5 486.7,357.7 482.6,355.2 480.9,351.8 485.1,346.8 483.4,341.8 478.4,337.6" fill="#a6efc3"/>
<polygon points="524.3,382.7 526.8,379.4 531.8,376.9 538.5,376.1 545.2,376.1 550.2,376.9 551.1,379.4 546.9,381.9 541.9,383.6 536.8,386.9 531.8,385.3 526.8,386.1" fill="#a6efc3"/>
<polygon points="495.1,400.0 500.1,395.3 506.8,391.1 513.5,388.3 511.8,391.9 506.8,395.3 500.1,398.9" fill="#f1f7c9"/>
<polygon points="460.0,333.5 462.5,332.1 464.7,334.3 463.3,337.1 460.0,336.8" fill="#ffffff"/>
<polygon points="603.5,480.2 606.8,476.9 613.5,471.9 620.2,465.2 625.2,458.5 628.5,456.0 629.4,460.2 626.9,468.5 624.4,476.9 623.5,483.6 620.2,488.6 616.0,492.7 611.8,496.9 608.5,497.8 606.8,493.6 606.0,486.9 604.3,483.6" fill="#ffffff"/>
<polygon points="554.2,445.1 556.7,444.3 561.7,440.1 568.4,435.1 573.4,433.4 575.9,435.1 573.4,438.4 566.7,441.8 561.7,445.1 558.4,448.5 555.9,451.0 553.7,448.5" fill="#a6efc3"/>
<polygon points="540.0,416.7 545.0,418.4 550.0,423.4 555.0,426.8 558.4,430.1 556.7,434.3 552.5,434.3 550.0,430.1 545.0,426.8 540.0,425.1" fill="#ffffff"/>
<polygon points="566.7,453.2 569.7,452.8 571.7,455.2 570.1,457.7 567.1,457.3 565.9,455.2" fill="#ffffff"/>
<polygon points="601.8,447.6 604.3,444.3 606.5,446.8 607.7,453.5 604.3,451.8 601.5,450.1" fill="#f1f7c9"/>
<polygon points="591.8,476.0 595.1,474.4 599.3,472.7 602.6,471.9 601.8,475.2 596.8,476.9 592.6,477.7" fill="#f1f7c9"/>
<polygon points="576.8,462.7 580.1,461.0 583.4,464.3 586.8,466.8 583.4,468.2 578.4,466.8" fill="#f1f7c9"/>
<polygon points="139.7,297.2 141.5,295.7 145.8,295.4 149.3,293.6 151.5,294.3 155.1,295.7 155.4,297.2 153.6,299.3 150.8,301.5 151.5,303.6 153.6,305.1 155.1,305.8 154.4,308.6 153.6,310.8 155.8,314.4 158.7,316.5 162.9,317.2 164.4,317.2 165.8,320.1 167.2,322.2 165.8,322.9 161.5,321.5 157.9,320.1 154.4,318.7 152.9,316.5 151.5,313.6 150.1,310.8 148.6,309.3 145.8,307.2 142.9,305.1 141.5,303.6 140.4,301.5 139.3,299.3" fill="#f1f7c9"/>
<polygon points="169.3,331.0 171.8,330.1 175.1,333.5 176.8,337.6 174.3,336.8 171.0,334.3" fill="#f1f7c9"/>
<polygon points="196.8,355.2 200.2,352.7 203.5,353.5 205.2,358.5 204.4,363.5 201.9,368.5 198.5,371.9 196.8,368.5 196.0,363.5 196.8,358.5" fill="#62c3a8"/>
<polygon points="197.5,379.7 199.4,379.2 200.9,382.6 202.4,387.5 204.3,391.4 206.2,393.3 209.2,396.2 212.1,399.2 214.5,402.1 214.0,405.0 211.1,405.5 208.2,405.0 205.3,404.0 202.4,403.5 199.4,403.1 196.5,400.1 194.6,401.1 192.6,402.1 189.7,400.1 188.7,397.2 189.7,394.3 190.7,390.4 192.6,388.5 194.6,389.4 196.0,391.4 196.5,387.5 197.0,383.6" fill="#62c3a8"/>
<polygon points="200.9,377.8 203.3,376.8 205.3,379.7 206.2,383.6 208.2,384.6 209.2,387.5 208.2,389.4 206.2,388.5 204.8,385.6 203.3,382.6 201.9,380.7" fill="#62c3a8"/>
<polygon points="207.2,416.7 210.1,415.2 212.1,417.6 213.5,420.6 216.9,423.0 220.8,424.0 223.7,425.4 227.6,427.4 225.7,428.3 222.8,427.4 220.8,429.3 219.9,433.2 216.9,432.2 213.1,429.3 209.2,426.4 207.2,423.5 207.7,419.6" fill="#62c3a8"/>
<polygon points="353.5,391.7 355.1,389.2 358.5,387.5 361.8,388.0 362.6,390.0 360.1,391.7 358.5,395.1 357.6,398.4 355.1,398.8 353.5,396.7 354.3,394.2" fill="#a6efc3"/>
<polygon points="315.1,339.3 316.7,336.8 319.2,335.1 322.6,333.0 325.1,329.2 326.8,326.7 330.1,324.6 333.4,323.2 336.8,321.9 338.9,320.9 340.1,323.4 342.6,326.7 345.1,330.1 347.6,332.6 351.0,335.1 355.2,336.8 360.0,338.4 364.0,339.4 370.8,341.4 378.6,340.4 382.5,340.4 385.4,341.4 385.9,344.3 388.3,348.2 390.3,351.1 390.8,355.0 392.2,358.9 394.2,363.7 394.3,364.6 396.2,368.5 399.2,370.4 403.1,371.9 406.9,372.4 410.8,371.9 414.2,371.4 414.7,375.3 414.7,379.2 413.7,383.1 412.8,386.5 410.3,385.0 407.9,383.1 406.0,384.0 404.5,386.0 403.1,385.0 402.1,382.1 400.1,380.1 398.2,379.2 396.2,377.2 394.3,374.3 392.4,371.4 390.4,369.4 388.5,367.5 386.5,365.6 384.6,362.6 383.6,360.7 380.7,359.7 376.8,359.7 372.9,360.7 370.0,361.2 364.0,360.8 361.1,359.4 359.2,357.4 358.7,355.0 358.2,352.1 356.2,350.1 353.3,349.2 349.4,347.2 345.6,344.3 341.7,341.4 337.8,339.0 333.9,337.0 330.0,335.6 335.9,339.3 331.8,336.8 327.6,335.1 323.4,335.9 319.2,338.0" fill="#cffbd9"/>
<polygon points="403.1,412.2 404.0,407.4 406.9,404.9 409.4,406.4 408.9,410.3 406.9,414.2 404.0,417.1 402.6,415.1" fill="#cffbd9"/>
<polygon points="393.3,404.4 394.3,401.5 395.3,403.0 394.8,407.4 393.8,409.5 392.9,408.3" fill="#cffbd9"/>
<polygon points="421.5,383.1 424.4,380.6 427.4,382.1 430.3,385.0 434.2,386.9 437.1,388.9 439.0,392.8 439.5,397.6 438.1,399.6 435.1,395.7 431.2,392.8 428.3,390.8 425.4,388.9 423.0,386.9" fill="#f1f7c9"/>
<polygon points="423.1,408.1 425.0,405.6 426.9,405.0 428.8,407.8 425.6,408.5" fill="#f1f7c9"/>
<polygon points="356.2,407.5 360.0,405.6 363.1,405.6 362.5,408.8 360.0,411.9 357.5,410.6" fill="#a6efc3"/>
<polygon points="357.5,437.5 361.2,434.4 365.0,432.5 367.5,432.8 365.0,435.0 361.2,437.5 358.1,438.8" fill="#f1f7c9"/>
<polygon points="343.8,442.5 345.6,441.2 348.1,443.1 347.5,445.0 345.0,444.4" fill="#f1f7c9"/>
<polygon points="351.2,417.5 353.8,415.6 356.2,417.5 355.0,420.0 352.5,420.0" fill="#f1f7c9"/>
<polygon points="341.7,505.9 344.5,503.0 347.4,504.4 350.3,507.3 353.1,510.2 351.7,514.5 348.8,518.0 346.0,518.8 343.1,515.9 341.7,511.6" fill="#a6efc3"/>
<clipPath id="isc"><polygon points="205.8,363.9 207.8,363.1 209.8,365.0 209.4,368.9 207.6,370.0 206.1,367.8" /><polygon points="213.3,366.7 215.3,365.0 217.6,366.1 217.2,370.6 215.3,372.2 213.6,370.6" /><polygon points="520.0,462.0 525.0,458.0 530.0,460.0 529.0,467.0 523.0,468.0" /><polygon points="494.0,482.0 497.0,479.5 500.0,481.0 499.0,484.0 495.0,484.0" /><polygon points="364.5,533.0 366.5,532.5 367.5,535.0 366.0,537.0 364.5,536.0" /><polygon points="384.2,547.5 385.0,551.7 386.7,555.9 390.0,555.1 390.9,546.7 392.5,543.4 394.2,546.7 395.9,552.6 401.7,552.6 408.4,551.7 410.9,550.0 411.7,553.4 415.9,554.2 420.9,554.2 423.4,558.4 424.3,560.9 430.1,559.2 436.8,557.6 443.5,555.1 450.2,553.4 456.8,552.6 463.5,551.7 466.0,555.9 473.6,555.1 480.2,554.2 486.9,555.1 493.6,553.4 500.3,551.7 505.3,551.7 505.3,556.7 506.1,561.7 507.0,565.1 512.0,562.6 517.0,559.2 521.8,556.7 526.8,555.1 530.1,552.6 533.5,550.0 536.0,549.2 536.8,555.1 536.0,559.2 535.1,565.1 533.5,569.3 530.1,570.9 525.1,570.1 520.1,570.1 513.4,571.8 506.7,573.4 500.0,575.1 493.4,575.9 486.7,578.4 480.0,580.1 473.6,581.8 466.9,583.5 460.2,585.1 454.3,586.8 453.5,580.1 452.7,575.9 446.8,575.1 440.1,574.3 433.5,572.6 426.8,571.8 420.1,571.8 413.4,572.6 406.7,572.6 400.0,572.6 393.4,573.4 386.7,574.3 384.2,571.8 384.2,563.4 384.2,555.1" /><polygon points="440.0,401.2 443.8,400.0 450.0,401.2 455.0,403.1 455.6,406.9 452.5,408.8 447.5,407.5 442.5,405.0 440.6,403.1" /><polygon points="455.6,415.6 458.8,413.8 461.2,410.0 465.0,409.4 468.8,411.2 466.2,413.8 462.5,415.0 458.8,417.5 456.2,418.1" /><polygon points="436.2,413.8 437.5,411.9 440.0,412.8 441.2,416.2 443.1,418.1 441.2,421.2 438.8,422.5 436.2,421.2 435.6,417.5" /><polygon points="410.0,421.2 412.5,418.1 415.0,420.0 416.2,423.8 415.0,427.5 412.5,430.6 410.6,429.4 410.0,425.0" /><polygon points="415.6,438.8 417.5,435.6 420.6,436.2 421.9,439.4 420.6,441.9 416.9,442.5" /><polygon points="428.1,446.9 430.0,445.6 432.5,447.5 435.0,451.2 434.4,454.4 431.9,455.0 430.0,451.9" /><polygon points="450.0,441.2 453.8,437.5 457.5,435.0 461.9,433.8 462.5,437.5 461.2,442.5 458.8,445.0 455.0,446.2 452.5,447.5 448.8,449.4 446.2,448.8 448.1,445.0" /><polygon points="466.2,436.2 470.0,431.2 473.8,428.1 477.5,429.4 479.4,433.8 479.4,440.0 477.5,445.0 474.4,448.1 471.2,446.9 468.1,443.1 465.6,438.8" /><polygon points="490.0,454.4 493.1,451.2 497.5,448.1 500.0,446.2 500.6,450.0 496.2,452.5 492.5,455.0" /><polygon points="464.4,460.0 467.5,457.5 471.2,461.2 471.9,465.6 468.1,466.2" /><polygon points="488.1,431.2 490.0,430.0 492.2,431.2 491.2,433.5 488.8,433.1" /><polygon points="471.9,453.1 475.0,451.2 478.8,450.0 481.2,448.1 483.8,448.1 486.2,450.0 485.0,451.9 481.2,452.5 477.5,453.8 473.8,454.8" /><polygon points="414.4,469.4 417.5,466.2 421.2,467.5 425.0,465.0 425.6,461.2 427.5,460.6 430.0,463.8 431.9,465.0 428.8,466.2 426.2,469.4 425.0,471.9 421.2,473.1 417.5,474.4 415.0,475.0" /><polygon points="442.5,470.0 445.0,469.4 448.8,471.9 448.1,473.8 445.0,473.1" /><polygon points="453.8,469.4 456.2,465.6 459.4,463.8 460.0,465.6 457.5,468.8 455.0,470.0" /><polygon points="471.2,480.6 473.8,478.1 476.9,478.8 479.4,481.9 478.8,486.2 476.2,486.9 473.8,485.0 472.5,483.1" /><polygon points="415.9,596.0 418.4,595.2 421.4,596.8 420.9,598.8 417.6,598.8" /><polygon points="411.4,549.2 413.4,546.7 416.4,547.0 418.1,549.7 416.8,552.6 413.4,553.1" /><polygon points="578.9,500.9 580.3,501.4 580.8,507.2 580.3,514.0 580.8,520.8 582.8,525.7 584.7,527.6 583.7,530.6 580.8,534.4 578.9,535.4 576.9,532.5 576.5,528.6 574.0,523.7 573.5,521.8 576.0,518.9 577.4,513.1 577.4,507.2 578.4,503.3" /><polygon points="563.3,541.2 566.2,538.3 570.1,535.9 573.1,534.4 572.1,536.9 569.2,539.3 565.8,542.2" /><polygon points="490.0,453.1 494.3,448.8 498.6,445.9 502.9,443.1 506.5,443.1 505.8,445.9 501.5,447.4 497.2,451.6 492.9,455.2 490.0,455.2" /><polygon points="516.9,394.4 520.1,390.8 523.0,389.4 524.4,392.9 523.0,397.2 519.4,397.9" /><polygon points="546.2,397.5 548.7,396.5 550.9,397.9 549.5,400.1 547.0,399.8" /><polygon points="535.1,404.4 537.3,405.8 539.4,410.1 538.7,413.7 536.6,412.3 535.6,408.0" /><polygon points="516.5,436.6 520.1,434.7 524.4,433.3 528.0,433.0 527.3,435.2 523.0,436.2 518.7,437.3" /><polygon points="340.7,312.3 342.9,309.4 345.7,309.4 347.2,313.0 345.0,314.7 341.4,314.4" /><polygon points="350.7,308.7 354.3,309.4 357.2,312.3 360.0,311.6 362.9,308.7 361.5,313.0 358.6,315.8 355.8,315.8 352.9,313.0" /><polygon points="363.6,309.4 366.5,304.4 368.6,300.8 370.8,300.1 371.8,304.4 369.4,308.7 365.8,310.8" /><polygon points="398.4,315.8 401.6,316.6 404.4,320.1 407.3,323.0 410.9,324.4 413.0,327.3 410.2,330.2 406.6,330.2 403.0,327.3 400.1,325.9 398.0,323.0 398.7,319.4" /><polygon points="372.6,295.1 374.4,292.9 376.1,294.4 375.1,297.5 373.2,297.5" /><polygon points="377.2,311.6 378.9,310.4 380.1,313.0 378.4,316.1 376.9,315.1" /><polygon points="383.5,193.4 386.8,190.9 391.8,190.9 396.0,193.4 397.7,198.4 396.0,203.4 391.8,205.9 386.8,204.3 383.5,200.1 383.2,196.8" /><polygon points="435.3,204.3 440.3,203.1 445.3,203.8 447.8,206.8 445.3,210.1 440.3,210.5 436.1,208.4 434.4,205.9" /><polygon points="417.9,243.1 419.7,241.9 422.7,240.4 425.1,240.7 427.4,240.1 429.8,241.3 431.6,243.7 434.0,240.7 436.4,238.4 439.4,236.0 439.7,238.9 438.2,241.9 436.4,244.9 435.8,247.9 436.4,250.9 437.6,252.7 436.4,254.5 434.0,253.9 432.2,252.7 431.0,250.9 429.8,249.1 428.6,249.7 428.0,251.5 429.8,253.9 428.6,255.1 426.3,254.5 425.1,253.3 423.9,252.7 421.5,253.3 420.3,252.7 419.7,249.7 419.1,246.7 418.2,244.9" /><polygon points="420.2,275.3 421.9,272.3 424.4,273.6 423.2,277.8 421.1,278.6" /><polygon points="469.2,285.1 472.5,282.6 476.7,281.7 481.7,280.0 485.1,275.9 489.2,274.6 493.4,272.9 495.1,274.2 497.6,275.9 499.3,277.5 498.4,279.6 500.9,281.7 503.4,284.2 506.8,287.6 510.1,291.7 512.2,295.1 510.1,296.3 508.0,295.9 507.6,298.8 505.1,300.1 501.8,300.9 497.6,300.9 493.4,300.1 489.2,299.7 486.7,298.4 484.2,295.9 481.7,295.1 476.7,294.7 472.5,293.4 469.6,291.7 468.8,288.4" /><polygon points="475.9,333.5 480.0,330.1 486.7,329.3 491.7,331.0 494.2,333.5 500.1,333.5 493.4,335.1 494.2,340.1 495.9,346.8 495.1,353.5 490.9,358.5 486.7,357.7 482.6,355.2 480.9,351.8 485.1,346.8 483.4,341.8 478.4,337.6" /><polygon points="524.3,382.7 526.8,379.4 531.8,376.9 538.5,376.1 545.2,376.1 550.2,376.9 551.1,379.4 546.9,381.9 541.9,383.6 536.8,386.9 531.8,385.3 526.8,386.1" /><polygon points="495.1,400.0 500.1,395.3 506.8,391.1 513.5,388.3 511.8,391.9 506.8,395.3 500.1,398.9" /><polygon points="460.0,333.5 462.5,332.1 464.7,334.3 463.3,337.1 460.0,336.8" /><polygon points="603.5,480.2 606.8,476.9 613.5,471.9 620.2,465.2 625.2,458.5 628.5,456.0 629.4,460.2 626.9,468.5 624.4,476.9 623.5,483.6 620.2,488.6 616.0,492.7 611.8,496.9 608.5,497.8 606.8,493.6 606.0,486.9 604.3,483.6" /><polygon points="554.2,445.1 556.7,444.3 561.7,440.1 568.4,435.1 573.4,433.4 575.9,435.1 573.4,438.4 566.7,441.8 561.7,445.1 558.4,448.5 555.9,451.0 553.7,448.5" /><polygon points="540.0,416.7 545.0,418.4 550.0,423.4 555.0,426.8 558.4,430.1 556.7,434.3 552.5,434.3 550.0,430.1 545.0,426.8 540.0,425.1" /><polygon points="566.7,453.2 569.7,452.8 571.7,455.2 570.1,457.7 567.1,457.3 565.9,455.2" /><polygon points="601.8,447.6 604.3,444.3 606.5,446.8 607.7,453.5 604.3,451.8 601.5,450.1" /><polygon points="591.8,476.0 595.1,474.4 599.3,472.7 602.6,471.9 601.8,475.2 596.8,476.9 592.6,477.7" /><polygon points="576.8,462.7 580.1,461.0 583.4,464.3 586.8,466.8 583.4,468.2 578.4,466.8" /><polygon points="139.7,297.2 141.5,295.7 145.8,295.4 149.3,293.6 151.5,294.3 155.1,295.7 155.4,297.2 153.6,299.3 150.8,301.5 151.5,303.6 153.6,305.1 155.1,305.8 154.4,308.6 153.6,310.8 155.8,314.4 158.7,316.5 162.9,317.2 164.4,317.2 165.8,320.1 167.2,322.2 165.8,322.9 161.5,321.5 157.9,320.1 154.4,318.7 152.9,316.5 151.5,313.6 150.1,310.8 148.6,309.3 145.8,307.2 142.9,305.1 141.5,303.6 140.4,301.5 139.3,299.3" /><polygon points="169.3,331.0 171.8,330.1 175.1,333.5 176.8,337.6 174.3,336.8 171.0,334.3" /><polygon points="196.8,355.2 200.2,352.7 203.5,353.5 205.2,358.5 204.4,363.5 201.9,368.5 198.5,371.9 196.8,368.5 196.0,363.5 196.8,358.5" /><polygon points="197.5,379.7 199.4,379.2 200.9,382.6 202.4,387.5 204.3,391.4 206.2,393.3 209.2,396.2 212.1,399.2 214.5,402.1 214.0,405.0 211.1,405.5 208.2,405.0 205.3,404.0 202.4,403.5 199.4,403.1 196.5,400.1 194.6,401.1 192.6,402.1 189.7,400.1 188.7,397.2 189.7,394.3 190.7,390.4 192.6,388.5 194.6,389.4 196.0,391.4 196.5,387.5 197.0,383.6" /><polygon points="200.9,377.8 203.3,376.8 205.3,379.7 206.2,383.6 208.2,384.6 209.2,387.5 208.2,389.4 206.2,388.5 204.8,385.6 203.3,382.6 201.9,380.7" /><polygon points="207.2,416.7 210.1,415.2 212.1,417.6 213.5,420.6 216.9,423.0 220.8,424.0 223.7,425.4 227.6,427.4 225.7,428.3 222.8,427.4 220.8,429.3 219.9,433.2 216.9,432.2 213.1,429.3 209.2,426.4 207.2,423.5 207.7,419.6" /><polygon points="353.5,391.7 355.1,389.2 358.5,387.5 361.8,388.0 362.6,390.0 360.1,391.7 358.5,395.1 357.6,398.4 355.1,398.8 353.5,396.7 354.3,394.2" /><polygon points="315.1,339.3 316.7,336.8 319.2,335.1 322.6,333.0 325.1,329.2 326.8,326.7 330.1,324.6 333.4,323.2 336.8,321.9 338.9,320.9 340.1,323.4 342.6,326.7 345.1,330.1 347.6,332.6 351.0,335.1 355.2,336.8 360.0,338.4 364.0,339.4 370.8,341.4 378.6,340.4 382.5,340.4 385.4,341.4 385.9,344.3 388.3,348.2 390.3,351.1 390.8,355.0 392.2,358.9 394.2,363.7 394.3,364.6 396.2,368.5 399.2,370.4 403.1,371.9 406.9,372.4 410.8,371.9 414.2,371.4 414.7,375.3 414.7,379.2 413.7,383.1 412.8,386.5 410.3,385.0 407.9,383.1 406.0,384.0 404.5,386.0 403.1,385.0 402.1,382.1 400.1,380.1 398.2,379.2 396.2,377.2 394.3,374.3 392.4,371.4 390.4,369.4 388.5,367.5 386.5,365.6 384.6,362.6 383.6,360.7 380.7,359.7 376.8,359.7 372.9,360.7 370.0,361.2 364.0,360.8 361.1,359.4 359.2,357.4 358.7,355.0 358.2,352.1 356.2,350.1 353.3,349.2 349.4,347.2 345.6,344.3 341.7,341.4 337.8,339.0 333.9,337.0 330.0,335.6 335.9,339.3 331.8,336.8 327.6,335.1 323.4,335.9 319.2,338.0" /><polygon points="403.1,412.2 404.0,407.4 406.9,404.9 409.4,406.4 408.9,410.3 406.9,414.2 404.0,417.1 402.6,415.1" /><polygon points="393.3,404.4 394.3,401.5 395.3,403.0 394.8,407.4 393.8,409.5 392.9,408.3" /><polygon points="421.5,383.1 424.4,380.6 427.4,382.1 430.3,385.0 434.2,386.9 437.1,388.9 439.0,392.8 439.5,397.6 438.1,399.6 435.1,395.7 431.2,392.8 428.3,390.8 425.4,388.9 423.0,386.9" /><polygon points="423.1,408.1 425.0,405.6 426.9,405.0 428.8,407.8 425.6,408.5" /><polygon points="356.2,407.5 360.0,405.6 363.1,405.6 362.5,408.8 360.0,411.9 357.5,410.6" /><polygon points="357.5,437.5 361.2,434.4 365.0,432.5 367.5,432.8 365.0,435.0 361.2,437.5 358.1,438.8" /><polygon points="343.8,442.5 345.6,441.2 348.1,443.1 347.5,445.0 345.0,444.4" /><polygon points="351.2,417.5 353.8,415.6 356.2,417.5 355.0,420.0 352.5,420.0" /><polygon points="341.7,505.9 344.5,503.0 347.4,504.4 350.3,507.3 353.1,510.2 351.7,514.5 348.8,518.0 346.0,518.8 343.1,515.9 341.7,511.6" /></clipPath>
<g clip-path="url(#isc)">
<polygon points="431.0,236.0 441.0,236.0 441.0,256.0 431.0,256.0" fill="#cffbd9"/>
<polygon points="147.0,302.0 153.0,300.0 156.0,306.0 155.0,313.0 150.0,312.0 146.0,306.0" fill="#ffffff"/>
<polygon points="157.0,315.0 170.0,315.0 170.0,325.0 157.0,325.0" fill="#a6efc3"/>
<polygon points="465.0,280.0 484.0,278.0 484.0,300.0 465.0,300.0" fill="#f1f7c9"/>
<polygon points="497.0,268.0 516.0,268.0 516.0,304.0 497.0,304.0" fill="#a6efc3"/>
<polygon points="474.0,327.0 498.0,327.0 498.0,336.0 488.0,338.0 474.0,340.0" fill="#62c3a8"/>
<polygon points="474.0,350.0 500.0,350.0 500.0,362.0 474.0,362.0" fill="#cffbd9"/>
<polygon points="522.0,380.0 529.0,380.0 530.0,392.0 522.0,392.0" fill="#62c3a8"/>
<polygon points="312.0,316.0 332.0,316.0 332.0,342.0 312.0,342.0" fill="#a6efc3"/>
<polygon points="352.0,334.0 420.0,334.0 420.0,390.0 352.0,360.0" fill="#f1f7c9"/>
</g>
<g fill="#add8e6">
<polygon points="485.1,295.1 486.7,288.4 490.1,286.3 493.0,287.1 491.7,290.1 488.4,292.2 485.9,294.2" />
<polygon points="502.6,290.9 504.3,290.5 506.4,292.6 506.8,294.2 505.5,294.7" />
</g>
<g fill="none" stroke="#111" stroke-width="1" stroke-linejoin="round">
<polyline points="362.8,362.2 364.6,373.0 361.0,378.3 350.2,374.7 343.1,380.1 335.9,383.7"/>
<polyline points="194.4,245.9 200.1,254.5 205.8,263.1 211.6,271.7 217.3,277.4 221.6,280.3"/>
<polyline points="221.6,280.3 231.6,278.9 243.1,277.4 254.5,276.0 260.2,268.8 266.0,257.4 267.4,254.5"/>
<polyline points="235.9,213.0 245.9,223.0 255.9,234.5 261.7,243.1 266.0,253.1 267.4,254.5"/>
<polyline points="267.4,254.5 274.6,254.5 283.1,260.2 291.7,263.1 297.5,268.8 300.3,270.3"/>
<polyline points="297.3,390.0 296.6,395.8 294.4,401.5 293.0,405.8 290.1,410.1 284.4,413.0 278.7,414.4 274.4,413.0 271.5,413.0 270.1,417.3 270.8,424.4 271.5,428.7 275.8,430.1 280.1,432.9 281.6,435.9 277.3,438.7 273.0,441.6 268.7,444.5 265.8,445.9"/>
<polyline points="330.0,160.0 333.4,165.0 338.4,170.0 345.1,175.0 351.7,178.4 355.9,181.7 358.4,186.7 356.8,191.7 353.4,195.9 348.4,198.4"/>
<polyline points="220.2,280.0 218.6,288.4 216.9,295.0 220.2,301.7 223.6,308.4 226.9,313.4 231.9,318.4 235.3,323.4 234.4,328.4 228.6,331.8 223.6,335.1 220.2,337.6"/>
<polyline points="230.0,320.4 237.2,322.3 249.9,320.4 255.3,325.9 266.1,329.5 275.2,325.9 282.4,316.8 289.6,318.6 295.0,325.9 305.9,327.7 316.7,327.7 322.1,325.9"/>
<polyline points="237.2,322.3 240.8,331.3 248.1,340.3 248.1,351.2 253.5,354.8 264.3,353.0 271.5,351.2 273.4,358.4 271.5,369.2 271.5,380.0"/>
</g>
<g fill="none" stroke="#0a0a0a" stroke-width="1.3" stroke-linejoin="round">
<polygon points="159.2,300.1 162.5,300.5 165.9,300.9 168.4,300.5 170.0,298.4 171.7,295.9 172.6,293.4 174.2,291.8 176.7,290.9 177.6,288.4 176.7,285.1 175.1,282.6 173.4,280.9 172.6,279.2 175.1,276.7 176.7,274.2 178.4,272.5 181.7,271.7 185.1,271.3 188.4,270.0 189.9,260.2 191.5,251.8 194.1,246.8 196.6,243.5 200.7,238.5 203.2,235.1 203.2,230.1 199.9,225.1 198.2,220.1 199.1,215.9 203.2,214.2 211.6,212.6 219.9,210.9 226.6,210.1 233.3,208.4 238.3,205.1 241.8,200.1 244.3,193.4 243.0,191.9 249.7,188.6 255.5,186.6 259.7,185.2 264.7,185.6 272.2,185.2 278.1,183.6 283.1,181.1 285.6,170.2 288.1,168.2 294.8,167.2 301.5,166.8 307.3,166.0 309.8,162.7 313.2,161.0 318.2,160.2 323.2,159.3 328.2,158.8 330.7,158.2 334.9,156.8 339.9,154.3 344.9,151.0 349.9,147.6 353.3,144.3 358.3,142.6 363.3,142.6 370.0,141.0 373.3,139.8 376.7,143.5 383.0,147.6 389.7,148.5 393.0,147.6 396.4,148.5 403.0,150.1 408.1,151.8 413.1,153.5 416.4,154.3 423.1,151.0 429.8,148.5 436.5,146.8 443.1,145.1 449.8,143.5 454.8,141.0 459.0,138.4 460.7,133.4 459.0,128.4 457.3,125.1 454.8,122.6 452.3,118.4 451.8,115.1 454.8,113.4 459.8,112.6 464.9,113.4 469.9,114.2 474.1,114.2 477.4,116.7 479.9,120.1 481.6,123.4 483.2,127.6 484.6,131.8 483.2,135.9 479.9,138.4 474.1,141.8 470.7,145.1 469.9,150.1 471.5,155.2 474.1,160.2 474.6,165.2 473.2,170.2 469.9,175.2 466.5,178.5 464.9,181.9 461.5,178.5 459.8,176.9 460.0,177.5 453.7,176.7 443.6,176.7 433.6,177.0 423.6,176.7 416.9,176.4 412.7,175.0 410.2,173.4 406.0,175.9 401.9,179.2 397.7,182.6 393.5,185.1 389.3,185.9 386.0,183.7 381.8,181.7 376.8,182.1 372.6,184.2 370.1,187.6 365.9,191.7 360.1,195.1 354.2,197.6 348.4,198.8 343.4,200.1 340.9,202.6 343.2,208.3 346.6,212.5 349.9,216.7 353.0,220.0 359.0,220.0 360.1,221.4 362.9,222.9 366.5,224.3 370.1,225.7 373.7,227.9 377.3,230.7 380.0,232.9 383.0,237.5 382.5,240.0 380.0,240.8 378.7,240.0 375.8,237.2 373.0,234.3 370.1,232.2 366.5,230.7 362.9,230.0 359.4,227.9 357.2,227.2 353.6,226.8 350.1,227.2 347.2,228.6 345.1,230.0 344.7,232.2 345.8,235.7 347.9,237.9 350.1,239.3 352.9,240.8 355.8,241.5 359.4,242.9 361.5,245.1 362.9,248.6 363.7,252.2 362.2,255.1 360.1,255.1 356.5,252.9 353.6,250.8 351.5,247.9 349.3,245.1 347.2,242.2 345.1,240.0 342.9,239.0 340.0,238.3 337.2,237.5 332.9,237.0 330.0,237.2 327.9,238.6 327.2,240.8 327.9,242.9 330.0,245.8 332.2,247.9 335.0,250.8 337.9,252.9 341.5,253.6 345.8,254.7 347.9,255.8 350.1,257.2 351.5,258.3 350.1,257.9 347.2,258.7 342.9,258.7 338.6,257.9 334.3,257.2 331.5,257.9 330.7,254.4 328.6,250.8 327.2,247.2 326.8,243.6 325.7,240.8 321.5,239.3 316.5,237.6 311.5,235.9 306.5,233.4 302.3,231.7 299.8,227.6 300.6,225.1 304.0,222.6 303.1,219.2 301.5,216.7 299.0,217.5 297.3,221.7 293.1,225.1 289.8,226.7 287.3,229.2 286.4,233.4 287.3,240.1 288.1,246.8 287.8,253.5 289.8,260.1 293.1,263.5 296.5,265.2 300.6,268.5 304.8,273.5 308.2,278.5 311.5,283.5 316.5,290.2 321.5,295.2 326.5,300.2 331.8,302.5 334.3,305.8 336.4,309.2 337.6,311.7 336.8,314.2 334.3,315.9 330.9,317.5 327.6,319.2 325.1,320.0 324.2,318.8 325.9,318.0 327.6,316.7 329.7,314.2 330.1,310.9 328.4,308.4 325.9,305.8 321.7,304.6 317.6,303.3 314.6,303.8 311.7,307.5 309.6,309.2 310.9,312.5 312.6,315.5 315.1,316.3 317.6,318.4 320.1,321.7 322.6,324.2 320.9,326.7 318.4,330.1 315.9,333.4 313.4,335.1 310.0,335.9 305.9,335.5 302.5,335.9 300.0,337.6 299.2,339.3 300.9,340.9 304.2,340.9 308.4,341.8 311.7,342.6 315.1,343.4 318.4,343.4 321.7,343.0 325.1,342.6 327.6,344.3 329.3,347.6 330.9,350.1 333.4,348.4 336.8,347.6 340.1,350.1 342.6,352.6 345.1,354.3 348.5,356.0 351.8,356.8 355.2,357.6 358.5,358.5 360.0,359.3 363.0,365.7 366.9,365.7 375.8,367.0 380.7,368.5 383.6,371.4 385.1,375.3 383.6,379.2 383.1,383.1 384.6,386.9 386.0,390.8 387.0,394.7 389.0,398.6 390.4,402.5 390.9,406.4 389.4,409.3 386.0,409.8 383.6,407.4 380.7,404.4 377.8,402.5 374.9,400.6 371.9,397.6 370.0,395.7 365.2,392.6 361.8,391.7 358.5,391.3 355.1,391.7 351.8,392.1 348.4,392.6 345.1,393.4 342.6,394.2 340.1,395.1 338.4,397.6 335.9,398.4 333.4,399.2 332.6,400.9 333.4,403.0 335.9,403.4 338.4,404.2 340.1,405.9 340.9,408.4 340.1,410.9 340.9,412.6 342.6,414.3 343.4,416.8 344.3,419.3 345.1,421.8 347.6,423.5 351.0,424.3 354.3,425.1 357.6,426.0 360.1,426.8 363.5,427.6 362.5,430.0 358.8,430.6 355.0,431.9 351.2,433.8 349.4,436.2 347.5,438.1 345.0,438.8 342.5,436.2 341.2,433.8 340.0,431.2 337.5,429.4 333.8,428.1 330.0,426.9 326.2,425.0 322.5,423.8 320.6,425.0 321.2,427.5 323.1,431.2 325.0,435.0 327.5,438.8 330.0,442.5 331.9,446.2 333.8,450.0 335.6,453.8 337.5,457.5 340.0,461.2 342.5,465.0 344.4,468.8 346.2,472.5 346.0,472.9 347.4,478.7 346.7,483.0 348.8,488.7 351.7,493.0 354.6,495.8 353.8,498.0 350.3,497.3 346.0,495.1 343.1,493.7 340.2,490.8 337.4,487.3 334.5,483.0 331.6,480.1 328.8,477.2 325.9,475.8 323.1,476.5 321.6,478.7 320.2,483.0 319.5,487.3 318.0,491.6 317.3,495.8 318.0,500.1 317.3,504.4 314.5,503.0 311.6,500.1 310.2,497.3 310.9,493.0 311.6,488.7 310.2,484.4 307.3,481.5 304.4,478.7 303.7,475.8 301.6,474.4 298.7,473.7 297.3,472.2 295.1,468.6 293.0,465.8 290.1,465.1 287.3,465.8 284.4,468.6 283.7,472.9 284.4,477.2 285.8,481.5 284.4,485.8 281.5,487.3 278.7,485.8 275.8,484.4 272.9,482.2 272.2,477.2 270.1,474.4 267.2,470.8 264.3,467.2 262.9,462.9 263.6,457.2 265.8,454.3 267.2,451.5 267.2,445.7 263.4,438.5 261.8,436.0 259.2,433.4 256.7,431.8 254.2,430.5 251.7,429.7 248.4,428.4 245.9,429.3 245.0,428.4 243.8,425.1 243.4,421.8 242.1,419.7 239.2,418.8 235.9,418.0 233.4,416.7 232.5,414.2 232.9,411.7 235.0,410.1 238.4,407.6 240.9,404.2 242.5,400.0 243.0,395.0 243.4,392.1 245.9,391.7 249.2,392.5 252.6,393.4 255.9,393.8 258.4,391.7 260.9,388.3 261.8,385.0 263.3,382.5 265.9,380.5 269.9,380.5 275.1,381.2 280.4,382.5 284.3,385.1 288.3,386.4 293.5,387.8 298.8,389.1 304.0,390.4 309.3,391.7 310.9,390.9 314.2,392.6 316.7,394.2 320.0,395.9 322.6,397.6 325.1,398.4 327.6,398.0 329.2,396.7 328.4,395.1 325.1,394.2 323.4,392.6 324.6,391.3 327.6,389.6 331.7,389.2 335.1,388.8 337.6,387.5 340.1,385.9 341.3,384.2 340.1,382.1 337.6,381.7 334.2,380.9 330.9,380.9 327.6,381.3 324.2,380.9 320.9,380.0 317.5,379.2 315.0,377.5 312.5,375.8 310.0,374.2 307.5,375.0 305.0,377.5 302.5,374.2 300.0,371.7 297.4,369.4 294.8,369.4 290.9,373.3 285.6,374.6 280.4,375.3 275.1,374.6 271.2,375.9 267.3,377.3 263.3,378.6 259.4,379.9 255.4,381.2 251.5,382.5 247.6,383.8 244.9,382.5 243.0,380.5 241.0,379.9 238.4,383.8 234.4,385.1 230.5,386.4 226.9,380.2 223.6,375.2 220.2,370.2 216.9,365.2 213.6,360.2 210.2,356.8 207.7,353.5 206.9,348.5 205.2,345.2 205.2,345.2 206.9,346.8 210.2,346.0 213.6,344.3 216.9,345.2 220.2,347.7 223.6,348.5 226.1,346.8 223.6,343.5 221.9,337.6 218.6,338.5 213.6,340.1 206.9,340.1 204.4,342.6 204.4,342.6 201.9,341.0 198.5,338.5 195.2,335.1 191.8,331.8 188.5,329.3 185.2,325.9 180.1,323.4 176.8,320.1 175.1,316.8 170.0,315.0 168.4,311.8 167.5,308.5 168.0,305.1 166.7,302.2 162.5,301.1 159.2,300.5" />
<polygon points="205.8,363.9 207.8,363.1 209.8,365.0 209.4,368.9 207.6,370.0 206.1,367.8" />
<polygon points="213.3,366.7 215.3,365.0 217.6,366.1 217.2,370.6 215.3,372.2 213.6,370.6" />
<polygon points="520.0,462.0 525.0,458.0 530.0,460.0 529.0,467.0 523.0,468.0" />
<polygon points="494.0,482.0 497.0,479.5 500.0,481.0 499.0,484.0 495.0,484.0" />
<polygon points="364.5,533.0 366.5,532.5 367.5,535.0 366.0,537.0 364.5,536.0" />
<polygon points="384.2,547.5 385.0,551.7 386.7,555.9 390.0,555.1 390.9,546.7 392.5,543.4 394.2,546.7 395.9,552.6 401.7,552.6 408.4,551.7 410.9,550.0 411.7,553.4 415.9,554.2 420.9,554.2 423.4,558.4 424.3,560.9 430.1,559.2 436.8,557.6 443.5,555.1 450.2,553.4 456.8,552.6 463.5,551.7 466.0,555.9 473.6,555.1 480.2,554.2 486.9,555.1 493.6,553.4 500.3,551.7 505.3,551.7 505.3,556.7 506.1,561.7 507.0,565.1 512.0,562.6 517.0,559.2 521.8,556.7 526.8,555.1 530.1,552.6 533.5,550.0 536.0,549.2 536.8,555.1 536.0,559.2 535.1,565.1 533.5,569.3 530.1,570.9 525.1,570.1 520.1,570.1 513.4,571.8 506.7,573.4 500.0,575.1 493.4,575.9 486.7,578.4 480.0,580.1 473.6,581.8 466.9,583.5 460.2,585.1 454.3,586.8 453.5,580.1 452.7,575.9 446.8,575.1 440.1,574.3 433.5,572.6 426.8,571.8 420.1,571.8 413.4,572.6 406.7,572.6 400.0,572.6 393.4,573.4 386.7,574.3 384.2,571.8 384.2,563.4 384.2,555.1" />
<polygon points="440.0,401.2 443.8,400.0 450.0,401.2 455.0,403.1 455.6,406.9 452.5,408.8 447.5,407.5 442.5,405.0 440.6,403.1" />
<polygon points="455.6,415.6 458.8,413.8 461.2,410.0 465.0,409.4 468.8,411.2 466.2,413.8 462.5,415.0 458.8,417.5 456.2,418.1" />
<polygon points="436.2,413.8 437.5,411.9 440.0,412.8 441.2,416.2 443.1,418.1 441.2,421.2 438.8,422.5 436.2,421.2 435.6,417.5" />
<polygon points="410.0,421.2 412.5,418.1 415.0,420.0 416.2,423.8 415.0,427.5 412.5,430.6 410.6,429.4 410.0,425.0" />
<polygon points="415.6,438.8 417.5,435.6 420.6,436.2 421.9,439.4 420.6,441.9 416.9,442.5" />
<polygon points="428.1,446.9 430.0,445.6 432.5,447.5 435.0,451.2 434.4,454.4 431.9,455.0 430.0,451.9" />
<polygon points="450.0,441.2 453.8,437.5 457.5,435.0 461.9,433.8 462.5,437.5 461.2,442.5 458.8,445.0 455.0,446.2 452.5,447.5 448.8,449.4 446.2,448.8 448.1,445.0" />
<polygon points="466.2,436.2 470.0,431.2 473.8,428.1 477.5,429.4 479.4,433.8 479.4,440.0 477.5,445.0 474.4,448.1 471.2,446.9 468.1,443.1 465.6,438.8" />
<polygon points="490.0,454.4 493.1,451.2 497.5,448.1 500.0,446.2 500.6,450.0 496.2,452.5 492.5,455.0" />
<polygon points="464.4,460.0 467.5,457.5 471.2,461.2 471.9,465.6 468.1,466.2" />
<polygon points="488.1,431.2 490.0,430.0 492.2,431.2 491.2,433.5 488.8,433.1" />
<polygon points="471.9,453.1 475.0,451.2 478.8,450.0 481.2,448.1 483.8,448.1 486.2,450.0 485.0,451.9 481.2,452.5 477.5,453.8 473.8,454.8" />
<polygon points="414.4,469.4 417.5,466.2 421.2,467.5 425.0,465.0 425.6,461.2 427.5,460.6 430.0,463.8 431.9,465.0 428.8,466.2 426.2,469.4 425.0,471.9 421.2,473.1 417.5,474.4 415.0,475.0" />
<polygon points="442.5,470.0 445.0,469.4 448.8,471.9 448.1,473.8 445.0,473.1" />
<polygon points="453.8,469.4 456.2,465.6 459.4,463.8 460.0,465.6 457.5,468.8 455.0,470.0" />
<polygon points="471.2,480.6 473.8,478.1 476.9,478.8 479.4,481.9 478.8,486.2 476.2,486.9 473.8,485.0 472.5,483.1" />
<polygon points="415.9,596.0 418.4,595.2 421.4,596.8 420.9,598.8 417.6,598.8" />
<polygon points="411.4,549.2 413.4,546.7 416.4,547.0 418.1,549.7 416.8,552.6 413.4,553.1" />
<polygon points="578.9,500.9 580.3,501.4 580.8,507.2 580.3,514.0 580.8,520.8 582.8,525.7 584.7,527.6 583.7,530.6 580.8,534.4 578.9,535.4 576.9,532.5 576.5,528.6 574.0,523.7 573.5,521.8 576.0,518.9 577.4,513.1 577.4,507.2 578.4,503.3" />
<polygon points="563.3,541.2 566.2,538.3 570.1,535.9 573.1,534.4 572.1,536.9 569.2,539.3 565.8,542.2" />
<polygon points="490.0,453.1 494.3,448.8 498.6,445.9 502.9,443.1 506.5,443.1 505.8,445.9 501.5,447.4 497.2,451.6 492.9,455.2 490.0,455.2" />
<polygon points="516.9,394.4 520.1,390.8 523.0,389.4 524.4,392.9 523.0,397.2 519.4,397.9" />
<polygon points="546.2,397.5 548.7,396.5 550.9,397.9 549.5,400.1 547.0,399.8" />
<polygon points="535.1,404.4 537.3,405.8 539.4,410.1 538.7,413.7 536.6,412.3 535.6,408.0" />
<polygon points="516.5,436.6 520.1,434.7 524.4,433.3 528.0,433.0 527.3,435.2 523.0,436.2 518.7,437.3" />
<polygon points="340.7,312.3 342.9,309.4 345.7,309.4 347.2,313.0 345.0,314.7 341.4,314.4" />
<polygon points="350.7,308.7 354.3,309.4 357.2,312.3 360.0,311.6 362.9,308.7 361.5,313.0 358.6,315.8 355.8,315.8 352.9,313.0" />
<polygon points="363.6,309.4 366.5,304.4 368.6,300.8 370.8,300.1 371.8,304.4 369.4,308.7 365.8,310.8" />
<polygon points="398.4,315.8 401.6,316.6 404.4,320.1 407.3,323.0 410.9,324.4 413.0,327.3 410.2,330.2 406.6,330.2 403.0,327.3 400.1,325.9 398.0,323.0 398.7,319.4" />
<polygon points="372.6,295.1 374.4,292.9 376.1,294.4 375.1,297.5 373.2,297.5" />
<polygon points="377.2,311.6 378.9,310.4 380.1,313.0 378.4,316.1 376.9,315.1" />
<polygon points="383.5,193.4 386.8,190.9 391.8,190.9 396.0,193.4 397.7,198.4 396.0,203.4 391.8,205.9 386.8,204.3 383.5,200.1 383.2,196.8" />
<polygon points="435.3,204.3 440.3,203.1 445.3,203.8 447.8,206.8 445.3,210.1 440.3,210.5 436.1,208.4 434.4,205.9" />
<polygon points="417.9,243.1 419.7,241.9 422.7,240.4 425.1,240.7 427.4,240.1 429.8,241.3 431.6,243.7 434.0,240.7 436.4,238.4 439.4,236.0 439.7,238.9 438.2,241.9 436.4,244.9 435.8,247.9 436.4,250.9 437.6,252.7 436.4,254.5 434.0,253.9 432.2,252.7 431.0,250.9 429.8,249.1 428.6,249.7 428.0,251.5 429.8,253.9 428.6,255.1 426.3,254.5 425.1,253.3 423.9,252.7 421.5,253.3 420.3,252.7 419.7,249.7 419.1,246.7 418.2,244.9" />
<polygon points="420.2,275.3 421.9,272.3 424.4,273.6 423.2,277.8 421.1,278.6" />
<polygon points="469.2,285.1 472.5,282.6 476.7,281.7 481.7,280.0 485.1,275.9 489.2,274.6 493.4,272.9 495.1,274.2 497.6,275.9 499.3,277.5 498.4,279.6 500.9,281.7 503.4,284.2 506.8,287.6 510.1,291.7 512.2,295.1 510.1,296.3 508.0,295.9 507.6,298.8 505.1,300.1 501.8,300.9 497.6,300.9 493.4,300.1 489.2,299.7 486.7,298.4 484.2,295.9 481.7,295.1 476.7,294.7 472.5,293.4 469.6,291.7 468.8,288.4" />
<polygon points="475.9,333.5 480.0,330.1 486.7,329.3 491.7,331.0 494.2,333.5 500.1,333.5 493.4,335.1 494.2,340.1 495.9,346.8 495.1,353.5 490.9,358.5 486.7,357.7 482.6,355.2 480.9,351.8 485.1,346.8 483.4,341.8 478.4,337.6" />
<polygon points="524.3,382.7 526.8,379.4 531.8,376.9 538.5,376.1 545.2,376.1 550.2,376.9 551.1,379.4 546.9,381.9 541.9,383.6 536.8,386.9 531.8,385.3 526.8,386.1" />
<polygon points="495.1,400.0 500.1,395.3 506.8,391.1 513.5,388.3 511.8,391.9 506.8,395.3 500.1,398.9" />
<polygon points="460.0,333.5 462.5,332.1 464.7,334.3 463.3,337.1 460.0,336.8" />
<polygon points="603.5,480.2 606.8,476.9 613.5,471.9 620.2,465.2 625.2,458.5 628.5,456.0 629.4,460.2 626.9,468.5 624.4,476.9 623.5,483.6 620.2,488.6 616.0,492.7 611.8,496.9 608.5,497.8 606.8,493.6 606.0,486.9 604.3,483.6" />
<polygon points="554.2,445.1 556.7,444.3 561.7,440.1 568.4,435.1 573.4,433.4 575.9,435.1 573.4,438.4 566.7,441.8 561.7,445.1 558.4,448.5 555.9,451.0 553.7,448.5" />
<polygon points="540.0,416.7 545.0,418.4 550.0,423.4 555.0,426.8 558.4,430.1 556.7,434.3 552.5,434.3 550.0,430.1 545.0,426.8 540.0,425.1" />
<polygon points="566.7,453.2 569.7,452.8 571.7,455.2 570.1,457.7 567.1,457.3 565.9,455.2" />
<polygon points="601.8,447.6 604.3,444.3 606.5,446.8 607.7,453.5 604.3,451.8 601.5,450.1" />
<polygon points="591.8,476.0 595.1,474.4 599.3,472.7 602.6,471.9 601.8,475.2 596.8,476.9 592.6,477.7" />
<polygon points="576.8,462.7 580.1,461.0 583.4,464.3 586.8,466.8 583.4,468.2 578.4,466.8" />
<polygon points="139.7,297.2 141.5,295.7 145.8,295.4 149.3,293.6 151.5,294.3 155.1,295.7 155.4,297.2 153.6,299.3 150.8,301.5 151.5,303.6 153.6,305.1 155.1,305.8 154.4,308.6 153.6,310.8 155.8,314.4 158.7,316.5 162.9,317.2 164.4,317.2 165.8,320.1 167.2,322.2 165.8,322.9 161.5,321.5 157.9,320.1 154.4,318.7 152.9,316.5 151.5,313.6 150.1,310.8 148.6,309.3 145.8,307.2 142.9,305.1 141.5,303.6 140.4,301.5 139.3,299.3" />
<polygon points="169.3,331.0 171.8,330.1 175.1,333.5 176.8,337.6 174.3,336.8 171.0,334.3" />
<polygon points="196.8,355.2 200.2,352.7 203.5,353.5 205.2,358.5 204.4,363.5 201.9,368.5 198.5,371.9 196.8,368.5 196.0,363.5 196.8,358.5" />
<polygon points="197.5,379.7 199.4,379.2 200.9,382.6 202.4,387.5 204.3,391.4 206.2,393.3 209.2,396.2 212.1,399.2 214.5,402.1 214.0,405.0 211.1,405.5 208.2,405.0 205.3,404.0 202.4,403.5 199.4,403.1 196.5,400.1 194.6,401.1 192.6,402.1 189.7,400.1 188.7,397.2 189.7,394.3 190.7,390.4 192.6,388.5 194.6,389.4 196.0,391.4 196.5,387.5 197.0,383.6" />
<polygon points="200.9,377.8 203.3,376.8 205.3,379.7 206.2,383.6 208.2,384.6 209.2,387.5 208.2,389.4 206.2,388.5 204.8,385.6 203.3,382.6 201.9,380.7" />
<polygon points="207.2,416.7 210.1,415.2 212.1,417.6 213.5,420.6 216.9,423.0 220.8,424.0 223.7,425.4 227.6,427.4 225.7,428.3 222.8,427.4 220.8,429.3 219.9,433.2 216.9,432.2 213.1,429.3 209.2,426.4 207.2,423.5 207.7,419.6" />
<polygon points="353.5,391.7 355.1,389.2 358.5,387.5 361.8,388.0 362.6,390.0 360.1,391.7 358.5,395.1 357.6,398.4 355.1,398.8 353.5,396.7 354.3,394.2" />
<polygon points="315.1,339.3 316.7,336.8 319.2,335.1 322.6,333.0 325.1,329.2 326.8,326.7 330.1,324.6 333.4,323.2 336.8,321.9 338.9,320.9 340.1,323.4 342.6,326.7 345.1,330.1 347.6,332.6 351.0,335.1 355.2,336.8 360.0,338.4 364.0,339.4 370.8,341.4 378.6,340.4 382.5,340.4 385.4,341.4 385.9,344.3 388.3,348.2 390.3,351.1 390.8,355.0 392.2,358.9 394.2,363.7 394.3,364.6 396.2,368.5 399.2,370.4 403.1,371.9 406.9,372.4 410.8,371.9 414.2,371.4 414.7,375.3 414.7,379.2 413.7,383.1 412.8,386.5 410.3,385.0 407.9,383.1 406.0,384.0 404.5,386.0 403.1,385.0 402.1,382.1 400.1,380.1 398.2,379.2 396.2,377.2 394.3,374.3 392.4,371.4 390.4,369.4 388.5,367.5 386.5,365.6 384.6,362.6 383.6,360.7 380.7,359.7 376.8,359.7 372.9,360.7 370.0,361.2 364.0,360.8 361.1,359.4 359.2,357.4 358.7,355.0 358.2,352.1 356.2,350.1 353.3,349.2 349.4,347.2 345.6,344.3 341.7,341.4 337.8,339.0 333.9,337.0 330.0,335.6 335.9,339.3 331.8,336.8 327.6,335.1 323.4,335.9 319.2,338.0" />
<polygon points="403.1,412.2 404.0,407.4 406.9,404.9 409.4,406.4 408.9,410.3 406.9,414.2 404.0,417.1 402.6,415.1" />
<polygon points="393.3,404.4 394.3,401.5 395.3,403.0 394.8,407.4 393.8,409.5 392.9,408.3" />
<polygon points="421.5,383.1 424.4,380.6 427.4,382.1 430.3,385.0 434.2,386.9 437.1,388.9 439.0,392.8 439.5,397.6 438.1,399.6 435.1,395.7 431.2,392.8 428.3,390.8 425.4,388.9 423.0,386.9" />
<polygon points="423.1,408.1 425.0,405.6 426.9,405.0 428.8,407.8 425.6,408.5" />
<polygon points="356.2,407.5 360.0,405.6 363.1,405.6 362.5,408.8 360.0,411.9 357.5,410.6" />
<polygon points="357.5,437.5 361.2,434.4 365.0,432.5 367.5,432.8 365.0,435.0 361.2,437.5 358.1,438.8" />
<polygon points="343.8,442.5 345.6,441.2 348.1,443.1 347.5,445.0 345.0,444.4" />
<polygon points="351.2,417.5 353.8,415.6 356.2,417.5 355.0,420.0 352.5,420.0" />
<polygon points="341.7,505.9 344.5,503.0 347.4,504.4 350.3,507.3 353.1,510.2 351.7,514.5 348.8,518.0 346.0,518.8 343.1,515.9 341.7,511.6" />
<polygon points="485.1,295.1 486.7,288.4 490.1,286.3 493.0,287.1 491.7,290.1 488.4,292.2 485.9,294.2" />
<polygon points="502.6,290.9 504.3,290.5 506.4,292.6 506.8,294.2 505.5,294.7" />
</g>
<g fill="#111"><ellipse cx="205.6" cy="373.3" rx="1.2" ry="1.2"/><ellipse cx="211.1" cy="376.7" rx="1" ry="1"/><ellipse cx="222.2" cy="378.9" rx="1.2" ry="1"/><ellipse cx="528" cy="410.7" rx="2.5" ry="2"/><ellipse cx="537.3" cy="408.6" rx="2" ry="3"/><ellipse cx="557.3" cy="408.6" rx="1.2" ry="1.2"/><ellipse cx="563" cy="431.5" rx="2" ry="1.5"/><ellipse cx="483.6" cy="434.4" rx="1" ry="1"/><ellipse cx="525.8" cy="433.7" rx="2" ry="1.2"/><ellipse cx="518" cy="436.5" rx="1.5" ry="1"/><ellipse cx="565.9" cy="450.1" rx="1.2" ry="1"/><ellipse cx="513.7" cy="466.6" rx="1" ry="1"/><ellipse cx="545.2" cy="475.9" rx="1.3" ry="1"/><ellipse cx="549.5" cy="478.8" rx="1" ry="1"/><ellipse cx="558.8" cy="423.6" rx="0.8" ry="0.8"/><ellipse cx="125.7" cy="294" rx="2.5" ry="2"/><ellipse cx="135" cy="290.7" rx="2" ry="2"/><ellipse cx="132.9" cy="299" rx="1.5" ry="1.2"/><ellipse cx="466" cy="494.4" rx="1" ry="1"/><ellipse cx="474.6" cy="548" rx="1.2" ry="1"/><ellipse cx="531.9" cy="497.2" rx="1" ry="1"/><ellipse cx="557.7" cy="505.8" rx="1" ry="1"/><ellipse cx="526.2" cy="513" rx="1" ry="1"/><ellipse cx="537.7" cy="513" rx="1" ry="1"/><ellipse cx="529" cy="574.6" rx="1.3" ry="1"/><ellipse cx="507.6" cy="583.2" rx="1.3" ry="1"/><ellipse cx="444.5" cy="583.2" rx="1" ry="1"/><ellipse cx="527.6" cy="546" rx="1" ry="1"/><ellipse cx="543.4" cy="477.2" rx="1" ry="1"/><ellipse cx="500.4" cy="487.2" rx="1" ry="1"/><ellipse cx="540.5" cy="471.5" rx="1" ry="1"/><ellipse cx="388.7" cy="465.2" rx="1" ry="1"/><ellipse cx="408.7" cy="465.7" rx="1.3" ry="1.3"/><ellipse cx="405.8" cy="482.9" rx="0.8" ry="0.8"/></g>
</g>
<rect x="103.6" y="90" width="630.8" height="548" fill="none" stroke="#4a5a63" stroke-width="1.2"/>

<!-- ticks -->
<g stroke="#555" stroke-width="1.1">
<line x1="88.4" y1="149.1" x2="103.5" y2="149.1"/>
<line x1="88.4" y1="287" x2="103.5" y2="287"/>
<line x1="88.4" y1="422.9" x2="103.5" y2="422.9"/>
<line x1="88.4" y1="557.4" x2="103.5" y2="557.4"/>
<line x1="198.5" y1="638" x2="198.5" y2="653.3"/>
<line x1="308.5" y1="638" x2="308.5" y2="653.3"/>
<line x1="419.3" y1="638" x2="419.3" y2="653.3"/>
<line x1="531.4" y1="638" x2="531.4" y2="653.3"/>
<line x1="644.5" y1="638" x2="644.5" y2="653.3"/>
</g>
<g class="ax">
<text x="38.8" y="155.6">42°N</text>
<text x="38.8" y="292.9">40°N</text>
<text x="38.8" y="428.9">38°N</text>
<text x="38.8" y="563.2">36°N</text>
<text x="198.5" y="678.9" text-anchor="middle">20°E</text>
<text x="308.5" y="678.9" text-anchor="middle">22°E</text>
<text x="419.3" y="678.9" text-anchor="middle">24°E</text>
<text x="531.4" y="678.9" text-anchor="middle">26°E</text>
<text x="644.5" y="678.9" text-anchor="middle">28°E</text>
</g>

<!-- colorbar -->
<g id="cbar"><rect x="753.5" y="89.80" width="24.5" height="30.44" fill="#7b3e6e"/><rect x="753.5" y="120.24" width="24.5" height="30.44" fill="#3f1a58"/><rect x="753.5" y="150.68" width="24.5" height="30.44" fill="#3f1a58"/><rect x="753.5" y="181.12" width="24.5" height="30.44" fill="#2b3a9e"/><rect x="753.5" y="211.56" width="24.5" height="30.44" fill="#1f6399"/><rect x="753.5" y="242.00" width="24.5" height="30.44" fill="#1f6399"/><rect x="753.5" y="272.44" width="24.5" height="30.44" fill="#2a88c3"/><rect x="753.5" y="302.88" width="24.5" height="30.44" fill="#4ba5c3"/><rect x="753.5" y="333.32" width="24.5" height="30.44" fill="#4ba5c3"/><rect x="753.5" y="363.76" width="24.5" height="30.44" fill="#45aa9a"/><rect x="753.5" y="394.20" width="24.5" height="30.44" fill="#45aa9a"/><rect x="753.5" y="424.64" width="24.5" height="30.44" fill="#62c3a8"/><rect x="753.5" y="455.08" width="24.5" height="30.44" fill="#a6efc3"/><rect x="753.5" y="485.52" width="24.5" height="30.44" fill="#a6efc3"/><rect x="753.5" y="515.96" width="24.5" height="30.44" fill="#cffbd9"/><rect x="753.5" y="546.40" width="24.5" height="30.44" fill="#f1f8cb"/><rect x="753.5" y="576.84" width="24.5" height="30.44" fill="#f1f8cb"/><rect x="753.5" y="607.28" width="24.5" height="30.44" fill="#ffffff"/><g stroke="#000" stroke-opacity="0.55" stroke-width="1"><line x1="753.5" y1="120.24" x2="778" y2="120.24"/><line x1="753.5" y1="150.68" x2="778" y2="150.68"/><line x1="753.5" y1="181.12" x2="778" y2="181.12"/><line x1="753.5" y1="211.56" x2="778" y2="211.56"/><line x1="753.5" y1="242.00" x2="778" y2="242.00"/><line x1="753.5" y1="272.44" x2="778" y2="272.44"/><line x1="753.5" y1="302.88" x2="778" y2="302.88"/><line x1="753.5" y1="333.32" x2="778" y2="333.32"/><line x1="753.5" y1="363.76" x2="778" y2="363.76"/><line x1="753.5" y1="394.20" x2="778" y2="394.20"/><line x1="753.5" y1="424.64" x2="778" y2="424.64"/><line x1="753.5" y1="455.08" x2="778" y2="455.08"/><line x1="753.5" y1="485.52" x2="778" y2="485.52"/><line x1="753.5" y1="515.96" x2="778" y2="515.96"/><line x1="753.5" y1="546.40" x2="778" y2="546.40"/><line x1="753.5" y1="576.84" x2="778" y2="576.84"/><line x1="753.5" y1="607.28" x2="778" y2="607.28"/></g><rect x="753.5" y="89.8" width="24.5" height="547.9" fill="none" stroke="#555" stroke-width="1"/></g>
<g class="cb"><text x="789" y="128.5">120</text><text x="789" y="159.0">110</text><text x="789" y="189.4">100</text><text x="789" y="219.9">90</text><text x="789" y="250.3">80</text><text x="789" y="280.7">70</text><text x="789" y="311.2">60</text><text x="789" y="341.6">50</text><text x="789" y="372.1">40</text><text x="789" y="402.5">30</text><text x="789" y="432.9">20</text><text x="789" y="463.4">10</text><text x="789" y="493.8">5</text><text x="789" y="524.3">4</text><text x="789" y="554.7">2</text><text x="789" y="585.1">1</text><text x="789" y="615.6">0.5</text></g>

<!-- callouts -->
<g fill="none" stroke="#000" stroke-width="2.7" stroke-linejoin="miter">
<polyline points="168.5,180 168.5,235.8 190.3,235.8 190.3,292.5"/>
<polyline points="178.3,458 178.3,420.4 243,420.4"/>
<polyline points="253.6,428.5 253.6,453.4 302.3,453.4 302.3,557"/>
</g>
<rect x="106.4" y="126.8" width="123.8" height="52" rx="7" fill="url(#cg)" stroke="#000" stroke-width="2.8"/>
<use href="#cloud" x="124.3" y="155.5"/>
<text class="co" x="146" y="146.8" font-size="16" textLength="41.6" lengthAdjust="spacingAndGlyphs">Ζίτσα</text>
<text class="co" x="141.8" y="169.4" font-size="16" textLength="51.6" lengthAdjust="spacingAndGlyphs">82 mm</text>
<rect x="103.7" y="458.8" width="149.9" height="51.9" rx="7" fill="url(#cg)" stroke="#000" stroke-width="2.8"/>
<use href="#cloud" x="123.9" y="483.5"/>
<text class="co" x="138.2" y="478.4" font-size="16" textLength="78.8" lengthAdjust="spacingAndGlyphs">Αμαλιάδα</text>
<text class="co" x="153.1" y="501.3" font-size="16" textLength="51.2" lengthAdjust="spacingAndGlyphs">79 mm</text>
<rect x="231.3" y="557.5" width="142.8" height="51.4" rx="7" fill="url(#cg)" stroke="#000" stroke-width="2.8"/>
<use href="#cloud" x="252.6" y="583.1"/>
<text class="co" x="272.4" y="578.6" font-size="16" textLength="59" lengthAdjust="spacingAndGlyphs">Πύργος</text>
<text class="co" x="271.2" y="600.4" font-size="16" textLength="61" lengthAdjust="spacingAndGlyphs">108 mm</text>

<!-- logo -->
<polygon points="621.7,582.1 637.6,582.1 649.1,593.5 660.5,582.1 677.2,582.1 677.2,612.8 662,612.8 662,603.1 651.3,611.7 646.8,611.7 636.1,603.1 636.1,612.8 621.7,612.8" fill="#1610c0"/>
<circle cx="621.5" cy="582" r="9.6" fill="#fbcd10"/>
<text x="684.4" y="592.6" font-size="14" fill="#2030c0" textLength="43.4" lengthAdjust="spacingAndGlyphs" style="fill:#2030c0">Meteo</text>
<text x="684.4" y="605.8" font-size="8.2" textLength="29.2" lengthAdjust="spacingAndGlyphs" style="fill:#2030c0">Όλα για</text>
<text x="684.4" y="613.3" font-size="8.2" textLength="35.9" lengthAdjust="spacingAndGlyphs" style="fill:#2030c0">τον καιρό</text>
</svg>
</body></html>
